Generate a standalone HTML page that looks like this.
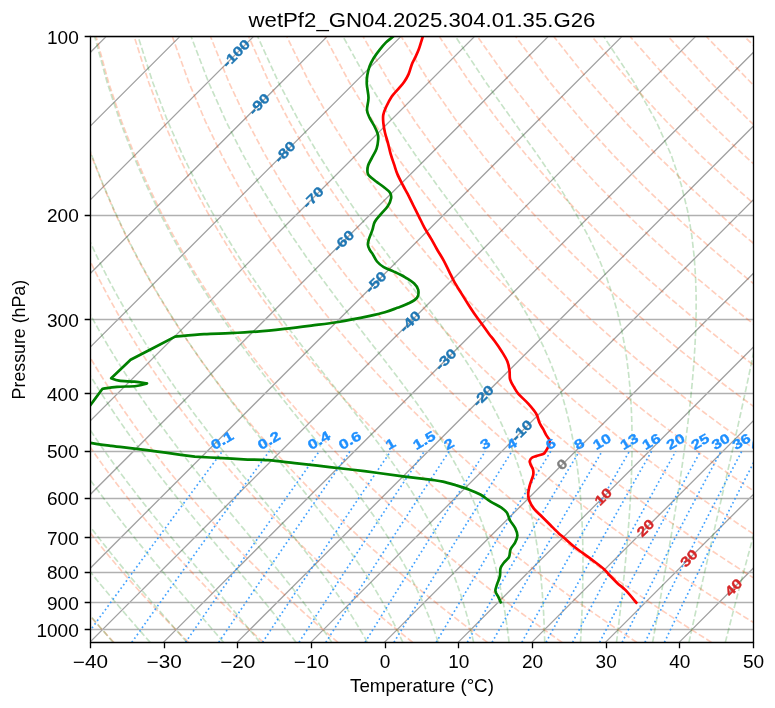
<!DOCTYPE html><html><head><meta charset="utf-8"><style>html,body{margin:0;padding:0;background:#fff;width:775px;height:708px;overflow:hidden;position:relative} svg{will-change:transform}</style></head><body>
<svg width="775" height="708" viewBox="0 0 775 708" style="position:absolute;left:0;top:0">
<defs><clipPath id="ax"><rect x="90.45" y="36.90" width="663.05" height="605.46"/></clipPath></defs>
<g clip-path="url(#ax)">
<path d="M-1089.01,642.36 L-483.54,36.90 M-1015.33,642.36 L-409.87,36.90 M-941.66,642.36 L-336.20,36.90 M-867.99,642.36 L-262.53,36.90 M-794.32,642.36 L-188.85,36.90 M-720.64,642.36 L-115.18,36.90 M-646.97,642.36 L-41.51,36.90 M-573.30,642.36 L32.16,36.90 M-499.63,642.36 L105.84,36.90 M-425.96,642.36 L179.51,36.90 M-352.28,642.36 L253.18,36.90 M-278.61,642.36 L326.85,36.90 M-204.94,642.36 L400.52,36.90 M-131.27,642.36 L474.20,36.90 M-57.59,642.36 L547.87,36.90 M16.08,642.36 L621.54,36.90 M89.75,642.36 L695.21,36.90 M163.42,642.36 L768.89,36.90 M237.09,642.36 L842.56,36.90 M310.77,642.36 L916.23,36.90 M384.44,642.36 L989.90,36.90 M458.11,642.36 L1063.57,36.90 M531.78,642.36 L1137.25,36.90 M605.46,642.36 L1210.92,36.90 M679.13,642.36 L1284.59,36.90 M752.80,642.36 L1358.26,36.90" stroke="#a2a2a2" stroke-width="1.33" fill="none"/>
<path d="M90.45,36.50 L753.50,36.50 M90.45,215.50 L753.50,215.50 M90.45,319.50 L753.50,319.50 M90.45,393.50 L753.50,393.50 M90.45,451.50 L753.50,451.50 M90.45,498.50 L753.50,498.50 M90.45,537.50 L753.50,537.50 M90.45,572.50 L753.50,572.50 M90.45,602.50 L753.50,602.50 M90.45,629.50 L753.50,629.50" stroke="#b0b0b0" stroke-width="1.33" fill="none"/>
<path d="M113.86,642.36 L109.41,637.56 L104.93,632.67 L100.41,627.69 L95.85,622.61 L91.26,617.42 L86.63,612.13 L81.97,606.73 L77.27,601.21 L72.52,595.57 L67.74,589.80 L62.92,583.90 L58.06,577.87 L53.16,571.68 L48.22,565.35 L43.23,558.86 L38.20,552.20 L33.13,545.36 L28.01,538.33 L22.84,531.11 L17.63,523.68 L12.38,516.03 L7.07,508.15 L1.72,500.01 L-3.68,491.61 L-9.12,482.93 L-14.61,473.94 L-20.15,464.63 L-25.74,454.97 L-31.37,444.93 L-37.05,434.49 L-42.77,423.61 L-48.53,412.24 L-54.32,400.35 L-60.15,387.88 L-66.00,374.78 L-71.87,360.98 L-77.75,346.39 L-83.62,330.93 L-89.47,314.48 L-95.27,296.90 L-101.00,278.04 L-106.61,257.69 L-112.04,235.59 L-117.22,211.41 L-122.04,184.72 L-126.33,154.95 L-129.85,121.28 L-132.22,82.53 L-132.79,36.90" stroke="#ff4500" stroke-width="1.67" fill="none" stroke-dasharray="6.17 2.67" stroke-opacity="0.26"/>
<path d="M188.57,642.36 L183.72,637.56 L178.83,632.67 L173.91,627.69 L168.94,622.61 L163.93,617.42 L158.87,612.13 L153.78,606.73 L148.64,601.21 L143.45,595.57 L138.22,589.80 L132.94,583.90 L127.61,577.87 L122.23,571.68 L116.80,565.35 L111.32,558.86 L105.79,552.20 L100.21,545.36 L94.57,538.33 L88.87,531.11 L83.12,523.68 L77.31,516.03 L71.44,508.15 L65.51,500.01 L59.52,491.61 L53.47,482.93 L47.36,473.94 L41.18,464.63 L34.94,454.97 L28.64,444.93 L22.27,434.49 L15.84,423.61 L9.35,412.24 L2.79,400.35 L-3.82,387.88 L-10.48,374.78 L-17.20,360.98 L-23.95,346.39 L-30.74,330.93 L-37.55,314.48 L-44.35,296.90 L-51.13,278.04 L-57.86,257.69 L-64.47,235.59 L-70.91,211.41 L-77.08,184.72 L-82.83,154.95 L-87.95,121.28 L-92.08,82.53 L-94.63,36.90" stroke="#ff4500" stroke-width="1.67" fill="none" stroke-dasharray="6.17 2.67" stroke-opacity="0.26"/>
<path d="M263.27,642.36 L258.03,637.56 L252.74,632.67 L247.41,627.69 L242.02,622.61 L236.59,617.42 L231.12,612.13 L225.59,606.73 L220.01,601.21 L214.38,595.57 L208.69,589.80 L202.95,583.90 L197.16,577.87 L191.30,571.68 L185.39,565.35 L179.42,558.86 L173.39,552.20 L167.29,545.36 L161.13,538.33 L154.90,531.11 L148.61,523.68 L142.25,516.03 L135.81,508.15 L129.30,500.01 L122.72,491.61 L116.07,482.93 L109.33,473.94 L102.52,464.63 L95.62,454.97 L88.65,444.93 L81.59,434.49 L74.44,423.61 L67.22,412.24 L59.90,400.35 L52.51,387.88 L45.03,374.78 L37.47,360.98 L29.84,346.39 L22.14,330.93 L14.37,314.48 L6.57,296.90 L-1.27,278.04 L-9.11,257.69 L-16.90,235.59 L-24.60,211.41 L-32.12,184.72 L-39.33,154.95 L-46.04,121.28 L-51.94,82.53 L-56.48,36.90" stroke="#ff4500" stroke-width="1.67" fill="none" stroke-dasharray="6.17 2.67" stroke-opacity="0.26"/>
<path d="M337.98,642.36 L332.34,637.56 L326.65,632.67 L320.91,627.69 L315.11,622.61 L309.26,617.42 L303.36,612.13 L297.40,606.73 L291.38,601.21 L285.30,595.57 L279.17,589.80 L272.97,583.90 L266.70,577.87 L260.37,571.68 L253.98,565.35 L247.52,558.86 L240.98,552.20 L234.37,545.36 L227.69,538.33 L220.93,531.11 L214.10,523.68 L207.18,516.03 L200.18,508.15 L193.09,500.01 L185.92,491.61 L178.66,482.93 L171.30,473.94 L163.85,464.63 L156.30,454.97 L148.66,444.93 L140.90,434.49 L133.05,423.61 L125.09,412.24 L117.02,400.35 L108.84,387.88 L100.55,374.78 L92.14,360.98 L83.63,346.39 L75.02,330.93 L66.30,314.48 L57.49,296.90 L48.59,278.04 L39.65,257.69 L30.67,235.59 L21.71,211.41 L12.84,184.72 L4.17,154.95 L-4.14,121.28 L-11.80,82.53 L-18.32,36.90" stroke="#ff4500" stroke-width="1.67" fill="none" stroke-dasharray="6.17 2.67" stroke-opacity="0.26"/>
<path d="M412.69,642.36 L406.65,637.56 L400.56,632.67 L394.41,627.69 L388.20,622.61 L381.93,617.42 L375.60,612.13 L369.21,606.73 L362.75,601.21 L356.23,595.57 L349.64,589.80 L342.98,583.90 L336.25,577.87 L329.45,571.68 L322.57,565.35 L315.61,558.86 L308.57,552.20 L301.46,545.36 L294.25,538.33 L286.97,531.11 L279.59,523.68 L272.12,516.03 L264.55,508.15 L256.89,500.01 L249.12,491.61 L241.25,482.93 L233.27,473.94 L225.19,464.63 L216.98,454.97 L208.66,444.93 L200.22,434.49 L191.66,423.61 L182.96,412.24 L174.13,400.35 L165.16,387.88 L156.06,374.78 L146.82,360.98 L137.43,346.39 L127.89,330.93 L118.22,314.48 L108.40,296.90 L98.46,278.04 L88.40,257.69 L78.24,235.59 L68.02,211.41 L57.80,184.72 L47.66,154.95 L37.76,121.28 L28.34,82.53 L19.84,36.90" stroke="#ff4500" stroke-width="1.67" fill="none" stroke-dasharray="6.17 2.67" stroke-opacity="0.26"/>
<path d="M487.39,642.36 L480.96,637.56 L474.46,632.67 L467.91,627.69 L461.28,622.61 L454.60,617.42 L447.84,612.13 L441.02,606.73 L434.12,601.21 L427.16,595.57 L420.11,589.80 L412.99,583.90 L405.80,577.87 L398.52,571.68 L391.15,565.35 L383.71,558.86 L376.17,552.20 L368.54,545.36 L360.82,538.33 L353.00,531.11 L345.08,523.68 L337.05,516.03 L328.92,508.15 L320.68,500.01 L312.32,491.61 L303.84,482.93 L295.25,473.94 L286.52,464.63 L277.67,454.97 L268.67,444.93 L259.54,434.49 L250.26,423.61 L240.83,412.24 L231.24,400.35 L221.49,387.88 L211.58,374.78 L201.49,360.98 L191.22,346.39 L180.77,330.93 L170.14,314.48 L159.32,296.90 L148.32,278.04 L137.15,257.69 L125.81,235.59 L114.33,211.41 L102.76,184.72 L91.16,154.95 L79.67,121.28 L68.48,82.53 L58.00,36.90" stroke="#ff4500" stroke-width="1.67" fill="none" stroke-dasharray="6.17 2.67" stroke-opacity="0.26"/>
<path d="M562.10,642.36 L555.27,637.56 L548.37,632.67 L541.41,627.69 L534.37,622.61 L527.26,617.42 L520.08,612.13 L512.83,606.73 L505.49,601.21 L498.08,595.57 L490.59,589.80 L483.01,583.90 L475.34,577.87 L467.59,571.68 L459.74,565.35 L451.80,558.86 L443.76,552.20 L435.62,545.36 L427.38,538.33 L419.03,531.11 L410.56,523.68 L401.99,516.03 L393.29,508.15 L384.47,500.01 L375.52,491.61 L366.44,482.93 L357.22,473.94 L347.86,464.63 L338.35,454.97 L328.68,444.93 L318.86,434.49 L308.87,423.61 L298.70,412.24 L288.36,400.35 L277.82,387.88 L267.09,374.78 L256.16,360.98 L245.01,346.39 L233.65,330.93 L222.06,314.48 L210.24,296.90 L198.19,278.04 L185.90,257.69 L173.38,235.59 L160.64,211.41 L147.72,184.72 L134.66,154.95 L121.57,121.28 L108.62,82.53 L96.16,36.90" stroke="#ff4500" stroke-width="1.67" fill="none" stroke-dasharray="6.17 2.67" stroke-opacity="0.26"/>
<path d="M636.81,642.36 L629.58,637.56 L622.28,632.67 L614.91,627.69 L607.46,622.61 L599.93,617.42 L592.32,612.13 L584.64,606.73 L576.87,601.21 L569.01,595.57 L561.06,589.80 L553.02,583.90 L544.89,577.87 L536.66,571.68 L528.33,565.35 L519.90,558.86 L511.36,552.20 L502.71,545.36 L493.94,538.33 L485.06,531.11 L476.05,523.68 L466.92,516.03 L457.66,508.15 L448.26,500.01 L438.72,491.61 L429.03,482.93 L419.19,473.94 L409.19,464.63 L399.03,454.97 L388.69,444.93 L378.18,434.49 L367.47,423.61 L356.57,412.24 L345.47,400.35 L334.15,387.88 L322.61,374.78 L310.83,360.98 L298.81,346.39 L286.53,330.93 L273.98,314.48 L261.16,296.90 L248.05,278.04 L234.65,257.69 L220.95,235.59 L206.95,211.41 L192.68,184.72 L178.16,154.95 L163.47,121.28 L148.76,82.53 L134.32,36.90" stroke="#ff4500" stroke-width="1.67" fill="none" stroke-dasharray="6.17 2.67" stroke-opacity="0.26"/>
<path d="M711.51,642.36 L703.89,637.56 L696.19,632.67 L688.40,627.69 L680.54,622.61 L672.60,617.42 L664.57,612.13 L656.45,606.73 L648.24,601.21 L639.93,595.57 L631.53,589.80 L623.04,583.90 L614.44,577.87 L605.73,571.68 L596.92,565.35 L587.99,558.86 L578.95,552.20 L569.79,545.36 L560.50,538.33 L551.09,531.11 L541.54,523.68 L531.86,516.03 L522.03,508.15 L512.05,500.01 L501.92,491.61 L491.62,482.93 L481.16,473.94 L470.53,464.63 L459.71,454.97 L448.70,444.93 L437.49,434.49 L426.08,423.61 L414.44,412.24 L402.58,400.35 L390.48,387.88 L378.12,374.78 L365.50,360.98 L352.60,346.39 L339.41,330.93 L325.91,314.48 L312.08,296.90 L297.92,278.04 L283.40,257.69 L268.52,235.59 L253.27,211.41 L237.64,184.72 L221.66,154.95 L205.38,121.28 L188.90,82.53 L172.47,36.90" stroke="#ff4500" stroke-width="1.67" fill="none" stroke-dasharray="6.17 2.67" stroke-opacity="0.26"/>
<path d="M786.22,642.36 L778.20,637.56 L770.09,632.67 L761.90,627.69 L753.63,622.61 L745.26,617.42 L736.81,612.13 L728.26,606.73 L719.61,601.21 L710.86,595.57 L702.01,589.80 L693.05,583.90 L683.98,577.87 L674.80,571.68 L665.51,565.35 L656.09,558.86 L646.54,552.20 L636.87,545.36 L627.06,538.33 L617.12,531.11 L607.03,523.68 L596.79,516.03 L586.40,508.15 L575.84,500.01 L565.12,491.61 L554.22,482.93 L543.14,473.94 L531.86,464.63 L520.39,454.97 L508.71,444.93 L496.81,434.49 L484.68,423.61 L472.31,412.24 L459.69,400.35 L446.80,387.88 L433.64,374.78 L420.17,360.98 L406.39,346.39 L392.29,330.93 L377.83,314.48 L363.00,296.90 L347.78,278.04 L332.15,257.69 L316.09,235.59 L299.58,211.41 L282.60,184.72 L265.16,154.95 L247.28,121.28 L229.04,82.53 L210.63,36.90" stroke="#ff4500" stroke-width="1.67" fill="none" stroke-dasharray="6.17 2.67" stroke-opacity="0.26"/>
<path d="M860.93,642.36 L852.51,637.56 L844.00,632.67 L835.40,627.69 L826.72,622.61 L817.93,617.42 L809.05,612.13 L800.07,606.73 L790.98,601.21 L781.79,595.57 L772.48,589.80 L763.07,583.90 L753.53,577.87 L743.87,571.68 L734.09,565.35 L724.18,558.86 L714.14,552.20 L703.95,545.36 L693.63,538.33 L683.15,531.11 L672.52,523.68 L661.73,516.03 L650.77,508.15 L639.63,500.01 L628.32,491.61 L616.81,482.93 L605.11,473.94 L593.20,464.63 L581.07,454.97 L568.72,444.93 L556.13,434.49 L543.29,423.61 L530.19,412.24 L516.81,400.35 L503.13,387.88 L489.15,374.78 L474.84,360.98 L460.19,346.39 L445.16,330.93 L429.75,314.48 L413.92,296.90 L397.65,278.04 L380.90,257.69 L363.66,235.59 L345.89,211.41 L327.56,184.72 L308.66,154.95 L289.18,121.28 L269.18,82.53 L248.79,36.90" stroke="#ff4500" stroke-width="1.67" fill="none" stroke-dasharray="6.17 2.67" stroke-opacity="0.26"/>
<path d="M935.63,642.36 L926.82,637.56 L917.91,632.67 L908.90,627.69 L899.80,622.61 L890.60,617.42 L881.29,612.13 L871.88,606.73 L862.35,601.21 L852.71,595.57 L842.96,589.80 L833.08,583.90 L823.08,577.87 L812.95,571.68 L802.68,565.35 L792.28,558.86 L781.73,552.20 L771.04,545.36 L760.19,538.33 L749.18,531.11 L738.01,523.68 L726.66,516.03 L715.14,508.15 L703.42,500.01 L691.52,491.61 L679.40,482.93 L667.08,473.94 L654.53,464.63 L641.75,454.97 L628.73,444.93 L615.45,434.49 L601.90,423.61 L588.06,412.24 L573.92,400.35 L559.46,387.88 L544.67,374.78 L529.51,360.98 L513.98,346.39 L498.04,330.93 L481.67,314.48 L464.84,296.90 L447.51,278.04 L429.66,257.69 L411.23,235.59 L392.20,211.41 L372.52,184.72 L352.16,154.95 L331.09,121.28 L309.32,82.53 L286.95,36.90" stroke="#ff4500" stroke-width="1.67" fill="none" stroke-dasharray="6.17 2.67" stroke-opacity="0.26"/>
<path d="M1010.34,642.36 L1001.13,637.56 L991.82,632.67 L982.40,627.69 L972.89,622.61 L963.27,617.42 L953.53,612.13 L943.69,606.73 L933.72,601.21 L923.64,595.57 L913.43,589.80 L903.09,583.90 L892.62,577.87 L882.02,571.68 L871.27,565.35 L860.37,558.86 L849.33,552.20 L838.12,545.36 L826.75,538.33 L815.21,531.11 L803.50,523.68 L791.60,516.03 L779.51,508.15 L767.21,500.01 L754.71,491.61 L742.00,482.93 L729.05,473.94 L715.87,464.63 L702.44,454.97 L688.74,444.93 L674.77,434.49 L660.50,423.61 L645.93,412.24 L631.03,400.35 L615.79,387.88 L600.18,374.78 L584.19,360.98 L567.77,346.39 L550.92,330.93 L533.59,314.48 L515.76,296.90 L497.38,278.04 L478.41,257.69 L458.80,235.59 L438.51,211.41 L417.48,184.72 L395.65,154.95 L372.99,121.28 L349.46,82.53 L325.11,36.90" stroke="#ff4500" stroke-width="1.67" fill="none" stroke-dasharray="6.17 2.67" stroke-opacity="0.26"/>
<path d="M1085.05,642.36 L1075.44,637.56 L1065.72,632.67 L1055.90,627.69 L1045.98,622.61 L1035.93,617.42 L1025.77,612.13 L1015.50,606.73 L1005.09,601.21 L994.57,595.57 L983.90,589.80 L973.11,583.90 L962.17,577.87 L951.09,571.68 L939.86,565.35 L928.47,558.86 L916.92,552.20 L905.20,545.36 L893.31,538.33 L881.24,531.11 L868.98,523.68 L856.53,516.03 L843.87,508.15 L831.01,500.01 L817.91,491.61 L804.59,482.93 L791.03,473.94 L777.20,464.63 L763.12,454.97 L748.75,444.93 L734.08,434.49 L719.11,423.61 L703.80,412.24 L688.14,400.35 L672.12,387.88 L655.70,374.78 L638.86,360.98 L621.57,346.39 L603.80,330.93 L585.52,314.48 L566.68,296.90 L547.24,278.04 L527.16,257.69 L506.37,235.59 L484.82,211.41 L462.44,184.72 L439.15,154.95 L414.89,121.28 L389.60,82.53 L363.27,36.90" stroke="#ff4500" stroke-width="1.67" fill="none" stroke-dasharray="6.17 2.67" stroke-opacity="0.26"/>
<path d="M1159.75,642.36 L1149.75,637.56 L1139.63,632.67 L1129.40,627.69 L1119.06,622.61 L1108.60,617.42 L1098.02,612.13 L1087.31,606.73 L1076.47,601.21 L1065.49,595.57 L1054.38,589.80 L1043.12,583.90 L1031.72,577.87 L1020.16,571.68 L1008.44,565.35 L996.56,558.86 L984.51,552.20 L972.29,545.36 L959.88,538.33 L947.27,531.11 L934.47,523.68 L921.47,516.03 L908.24,508.15 L894.80,500.01 L881.11,491.61 L867.18,482.93 L853.00,473.94 L838.54,464.63 L823.80,454.97 L808.76,444.93 L793.40,434.49 L777.71,423.61 L761.67,412.24 L745.26,400.35 L728.44,387.88 L711.21,374.78 L693.53,360.98 L675.36,346.39 L656.68,330.93 L637.44,314.48 L617.60,296.90 L597.11,278.04 L575.91,257.69 L553.94,235.59 L531.13,211.41 L507.40,184.72 L482.65,154.95 L456.80,121.28 L429.74,82.53 L401.42,36.90" stroke="#ff4500" stroke-width="1.67" fill="none" stroke-dasharray="6.17 2.67" stroke-opacity="0.26"/>
<path d="M1234.46,642.36 L1224.06,637.56 L1213.54,632.67 L1202.90,627.69 L1192.15,622.61 L1181.27,617.42 L1170.26,612.13 L1159.12,606.73 L1147.84,601.21 L1136.42,595.57 L1124.85,589.80 L1113.14,583.90 L1101.26,577.87 L1089.23,571.68 L1077.03,565.35 L1064.66,558.86 L1052.11,552.20 L1039.37,545.36 L1026.44,538.33 L1013.30,531.11 L999.96,523.68 L986.40,516.03 L972.61,508.15 L958.59,500.01 L944.31,491.61 L929.78,482.93 L914.97,473.94 L899.88,464.63 L884.48,454.97 L868.77,444.93 L852.72,434.49 L836.32,423.61 L819.54,412.24 L802.37,400.35 L784.77,387.88 L766.73,374.78 L748.20,360.98 L729.16,346.39 L709.56,330.93 L689.36,314.48 L668.52,296.90 L646.97,278.04 L624.66,257.69 L601.51,235.59 L577.44,211.41 L552.36,184.72 L526.15,154.95 L498.70,121.28 L469.88,82.53 L439.58,36.90" stroke="#ff4500" stroke-width="1.67" fill="none" stroke-dasharray="6.17 2.67" stroke-opacity="0.26"/>
<path d="M1309.16,642.36 L1298.37,637.56 L1287.45,632.67 L1276.40,627.69 L1265.23,622.61 L1253.93,617.42 L1242.50,612.13 L1230.93,606.73 L1219.21,601.21 L1207.34,595.57 L1195.33,589.80 L1183.15,583.90 L1170.81,577.87 L1158.30,571.68 L1145.62,565.35 L1132.75,558.86 L1119.70,552.20 L1106.45,545.36 L1093.00,538.33 L1079.34,531.11 L1065.45,523.68 L1051.34,516.03 L1036.98,508.15 L1022.38,500.01 L1007.51,491.61 L992.37,482.93 L976.94,473.94 L961.21,464.63 L945.16,454.97 L928.78,444.93 L912.04,434.49 L894.92,423.61 L877.41,412.24 L859.48,400.35 L841.10,387.88 L822.24,374.78 L802.87,360.98 L782.95,346.39 L762.44,330.93 L741.28,314.48 L719.44,296.90 L696.84,278.04 L673.41,257.69 L649.08,235.59 L623.75,211.41 L597.32,184.72 L569.65,154.95 L540.60,121.28 L510.02,82.53 L477.74,36.90" stroke="#ff4500" stroke-width="1.67" fill="none" stroke-dasharray="6.17 2.67" stroke-opacity="0.26"/>
<path d="M1383.87,642.36 L1372.68,637.56 L1361.35,632.67 L1349.90,627.69 L1338.32,622.61 L1326.60,617.42 L1314.74,612.13 L1302.74,606.73 L1290.58,601.21 L1278.27,595.57 L1265.80,589.80 L1253.16,583.90 L1240.36,577.87 L1227.37,571.68 L1214.21,565.35 L1200.85,558.86 L1187.29,552.20 L1173.53,545.36 L1159.56,538.33 L1145.37,531.11 L1130.94,523.68 L1116.27,516.03 L1101.35,508.15 L1086.17,500.01 L1070.71,491.61 L1054.96,482.93 L1038.91,473.94 L1022.55,464.63 L1005.84,454.97 L988.79,444.93 L971.36,434.49 L953.53,423.61 L935.28,412.24 L916.59,400.35 L897.43,387.88 L877.76,374.78 L857.54,360.98 L836.74,346.39 L815.31,330.93 L793.20,314.48 L770.36,296.90 L746.70,278.04 L722.16,257.69 L696.65,235.59 L670.06,211.41 L642.28,184.72 L613.15,154.95 L582.51,121.28 L550.16,82.53 L515.90,36.90" stroke="#ff4500" stroke-width="1.67" fill="none" stroke-dasharray="6.17 2.67" stroke-opacity="0.26"/>
<path d="M1458.58,642.36 L1446.98,637.56 L1435.26,632.67 L1423.40,627.69 L1411.41,622.61 L1399.27,617.42 L1386.98,612.13 L1374.55,606.73 L1361.95,601.21 L1349.20,595.57 L1336.27,589.80 L1323.18,583.90 L1309.90,577.87 L1296.45,571.68 L1282.79,565.35 L1268.95,558.86 L1254.89,552.20 L1240.62,545.36 L1226.12,538.33 L1211.40,531.11 L1196.43,523.68 L1181.21,516.03 L1165.72,508.15 L1149.96,500.01 L1133.91,491.61 L1117.56,482.93 L1100.89,473.94 L1083.88,464.63 L1066.52,454.97 L1048.79,444.93 L1030.67,434.49 L1012.14,423.61 L993.16,412.24 L973.71,400.35 L953.76,387.88 L933.27,374.78 L912.21,360.98 L890.54,346.39 L868.19,330.93 L845.13,314.48 L821.28,296.90 L796.57,278.04 L770.91,257.69 L744.22,235.59 L716.38,211.41 L687.24,184.72 L656.65,154.95 L624.41,121.28 L590.30,82.53 L554.06,36.90" stroke="#ff4500" stroke-width="1.67" fill="none" stroke-dasharray="6.17 2.67" stroke-opacity="0.26"/>
<path d="M1533.28,642.36 L1521.29,637.56 L1509.17,632.67 L1496.90,627.69 L1484.49,622.61 L1471.94,617.42 L1459.22,612.13 L1446.36,606.73 L1433.32,601.21 L1420.12,595.57 L1406.75,589.80 L1393.19,583.90 L1379.45,577.87 L1365.52,571.68 L1351.38,565.35 L1337.04,558.86 L1322.48,552.20 L1307.70,545.36 L1292.69,538.33 L1277.43,531.11 L1261.92,523.68 L1246.14,516.03 L1230.09,508.15 L1213.75,500.01 L1197.11,491.61 L1180.15,482.93 L1162.86,473.94 L1145.22,464.63 L1127.21,454.97 L1108.80,444.93 L1089.99,434.49 L1070.74,423.61 L1051.03,412.24 L1030.82,400.35 L1010.09,387.88 L988.79,374.78 L966.88,360.98 L944.33,346.39 L921.07,330.93 L897.05,314.48 L872.19,296.90 L846.43,278.04 L819.67,257.69 L791.79,235.59 L762.69,211.41 L732.20,184.72 L700.15,154.95 L666.31,121.28 L630.44,82.53 L592.22,36.90" stroke="#ff4500" stroke-width="1.67" fill="none" stroke-dasharray="6.17 2.67" stroke-opacity="0.26"/>
<path d="M1607.99,642.36 L1595.60,637.56 L1583.08,632.67 L1570.40,627.69 L1557.58,622.61 L1544.60,617.42 L1531.47,612.13 L1518.17,606.73 L1504.69,601.21 L1491.05,595.57 L1477.22,589.80 L1463.21,583.90 L1449.00,577.87 L1434.59,571.68 L1419.97,565.35 L1405.14,558.86 L1390.08,552.20 L1374.78,545.36 L1359.25,538.33 L1343.46,531.11 L1327.41,523.68 L1311.08,516.03 L1294.46,508.15 L1277.54,500.01 L1260.31,491.61 L1242.74,482.93 L1224.83,473.94 L1206.55,464.63 L1187.89,454.97 L1168.81,444.93 L1149.31,434.49 L1129.35,423.61 L1108.90,412.24 L1087.93,400.35 L1066.41,387.88 L1044.30,374.78 L1021.55,360.98 L998.12,346.39 L973.95,330.93 L948.97,314.48 L923.11,296.90 L896.30,278.04 L868.42,257.69 L839.36,235.59 L809.00,211.41 L777.16,184.72 L743.64,154.95 L708.22,121.28 L670.58,82.53 L630.37,36.90" stroke="#ff4500" stroke-width="1.67" fill="none" stroke-dasharray="6.17 2.67" stroke-opacity="0.26"/>
<path d="M1682.70,642.36 L1669.91,637.56 L1656.98,632.67 L1643.90,627.69 L1630.67,622.61 L1617.27,617.42 L1603.71,612.13 L1589.98,606.73 L1576.07,601.21 L1561.98,595.57 L1547.70,589.80 L1533.22,583.90 L1518.55,577.87 L1503.66,571.68 L1488.56,565.35 L1473.23,558.86 L1457.67,552.20 L1441.87,545.36 L1425.81,538.33 L1409.49,531.11 L1392.89,523.68 L1376.01,516.03 L1358.83,508.15 L1341.33,500.01 L1323.51,491.61 L1305.34,482.93 L1286.80,473.94 L1267.89,464.63 L1248.57,454.97 L1228.82,444.93 L1208.63,434.49 L1187.95,423.61 L1166.77,412.24 L1145.04,400.35 L1122.74,387.88 L1099.82,374.78 L1076.23,360.98 L1051.92,346.39 L1026.83,330.93 L1000.89,314.48 L974.03,296.90 L946.16,278.04 L917.17,257.69 L886.93,235.59 L855.31,211.41 L822.12,184.72 L787.14,154.95 L750.12,121.28 L710.72,82.53 L668.53,36.90" stroke="#ff4500" stroke-width="1.67" fill="none" stroke-dasharray="6.17 2.67" stroke-opacity="0.26"/>
<path d="M1757.40,642.36 L1744.22,637.56 L1730.89,632.67 L1717.40,627.69 L1703.75,622.61 L1689.94,617.42 L1675.95,612.13 L1661.79,606.73 L1647.44,601.21 L1632.90,595.57 L1618.17,589.80 L1603.24,583.90 L1588.09,577.87 L1572.73,571.68 L1557.15,565.35 L1541.33,558.86 L1525.26,552.20 L1508.95,545.36 L1492.37,538.33 L1475.52,531.11 L1458.38,523.68 L1440.95,516.03 L1423.20,508.15 L1405.12,500.01 L1386.71,491.61 L1367.93,482.93 L1348.78,473.94 L1329.22,464.63 L1309.25,454.97 L1288.83,444.93 L1267.94,434.49 L1246.56,423.61 L1224.64,412.24 L1202.16,400.35 L1179.07,387.88 L1155.33,374.78 L1130.90,360.98 L1105.71,346.39 L1079.71,330.93 L1052.81,314.48 L1024.95,296.90 L996.02,278.04 L965.92,257.69 L934.50,235.59 L901.62,211.41 L867.08,184.72 L830.64,154.95 L792.03,121.28 L750.86,82.53 L706.69,36.90" stroke="#ff4500" stroke-width="1.67" fill="none" stroke-dasharray="6.17 2.67" stroke-opacity="0.26"/>
<path d="M1832.11,642.36 L1818.53,637.56 L1804.80,632.67 L1790.90,627.69 L1776.84,622.61 L1762.60,617.42 L1748.19,612.13 L1733.60,606.73 L1718.81,601.21 L1703.83,595.57 L1688.64,589.80 L1673.25,583.90 L1657.64,577.87 L1641.80,571.68 L1625.73,565.35 L1609.42,558.86 L1592.86,552.20 L1576.03,545.36 L1558.93,538.33 L1541.55,531.11 L1523.87,523.68 L1505.88,516.03 L1487.57,508.15 L1468.92,500.01 L1449.91,491.61 L1430.52,482.93 L1410.75,473.94 L1390.56,464.63 L1369.93,454.97 L1348.84,444.93 L1327.26,434.49 L1305.16,423.61 L1282.51,412.24 L1259.27,400.35 L1235.40,387.88 L1210.85,374.78 L1185.57,360.98 L1159.50,346.39 L1132.58,330.93 L1104.74,314.48 L1075.87,296.90 L1045.89,278.04 L1014.67,257.69 L982.07,235.59 L947.93,211.41 L912.04,184.72 L874.14,154.95 L833.93,121.28 L791.00,82.53 L744.85,36.90" stroke="#ff4500" stroke-width="1.67" fill="none" stroke-dasharray="6.17 2.67" stroke-opacity="0.26"/>
<path d="M1906.82,642.36 L1892.84,637.56 L1878.71,632.67 L1864.40,627.69 L1849.93,622.61 L1835.27,617.42 L1820.43,612.13 L1805.41,606.73 L1790.18,601.21 L1774.75,595.57 L1759.12,589.80 L1743.26,583.90 L1727.19,577.87 L1710.87,571.68 L1694.32,565.35 L1677.52,558.86 L1660.45,552.20 L1643.12,545.36 L1625.50,538.33 L1607.58,531.11 L1589.36,523.68 L1570.82,516.03 L1551.94,508.15 L1532.71,500.01 L1513.11,491.61 L1493.12,482.93 L1472.72,473.94 L1451.89,464.63 L1430.61,454.97 L1408.85,444.93 L1386.58,434.49 L1363.77,423.61 L1340.38,412.24 L1316.38,400.35 L1291.73,387.88 L1266.36,374.78 L1240.24,360.98 L1213.30,346.39 L1185.46,330.93 L1156.66,314.48 L1126.79,296.90 L1095.75,278.04 L1063.42,257.69 L1029.64,235.59 L994.24,211.41 L957.00,184.72 L917.64,154.95 L875.83,121.28 L831.14,82.53 L783.01,36.90" stroke="#ff4500" stroke-width="1.67" fill="none" stroke-dasharray="6.17 2.67" stroke-opacity="0.26"/>
<path d="M1981.52,642.36 L1967.15,637.56 L1952.61,632.67 L1937.90,627.69 L1923.01,622.61 L1907.94,617.42 L1892.68,612.13 L1877.22,606.73 L1861.55,601.21 L1845.68,595.57 L1829.59,589.80 L1813.28,583.90 L1796.73,577.87 L1779.95,571.68 L1762.91,565.35 L1745.61,558.86 L1728.05,552.20 L1710.20,545.36 L1692.06,538.33 L1673.61,531.11 L1654.85,523.68 L1635.75,516.03 L1616.31,508.15 L1596.50,500.01 L1576.31,491.61 L1555.71,482.93 L1534.69,473.94 L1513.23,464.63 L1491.29,454.97 L1468.86,444.93 L1445.90,434.49 L1422.38,423.61 L1398.25,412.24 L1373.50,400.35 L1348.05,387.88 L1321.88,374.78 L1294.91,360.98 L1267.09,346.39 L1238.34,330.93 L1208.58,314.48 L1177.71,296.90 L1145.62,278.04 L1112.17,257.69 L1077.21,235.59 L1040.55,211.41 L1001.96,184.72 L961.14,154.95 L917.74,121.28 L871.28,82.53 L821.17,36.90" stroke="#ff4500" stroke-width="1.67" fill="none" stroke-dasharray="6.17 2.67" stroke-opacity="0.26"/>
<path d="M2056.23,642.36 L2041.46,637.56 L2026.52,632.67 L2011.40,627.69 L1996.10,622.61 L1980.61,617.42 L1964.92,612.13 L1949.03,606.73 L1932.92,601.21 L1916.61,595.57 L1900.07,589.80 L1883.29,583.90 L1866.28,577.87 L1849.02,571.68 L1831.50,565.35 L1813.71,558.86 L1795.64,552.20 L1777.28,545.36 L1758.62,538.33 L1739.64,531.11 L1720.34,523.68 L1700.69,516.03 L1680.68,508.15 L1660.29,500.01 L1639.50,491.61 L1618.30,482.93 L1596.66,473.94 L1574.56,464.63 L1551.97,454.97 L1528.87,444.93 L1505.22,434.49 L1480.98,423.61 L1456.13,412.24 L1430.61,400.35 L1404.38,387.88 L1377.39,374.78 L1349.58,360.98 L1320.88,346.39 L1291.22,330.93 L1260.50,314.48 L1228.63,296.90 L1195.48,278.04 L1160.92,257.69 L1124.78,235.59 L1086.86,211.41 L1046.92,184.72 L1004.64,154.95 L959.64,121.28 L911.42,82.53 L859.32,36.90" stroke="#ff4500" stroke-width="1.67" fill="none" stroke-dasharray="6.17 2.67" stroke-opacity="0.26"/>
<path d="M2130.94,642.36 L2115.77,637.56 L2100.43,632.67 L2084.90,627.69 L2069.19,622.61 L2053.27,617.42 L2037.16,612.13 L2020.83,606.73 L2004.30,601.21 L1987.53,595.57 L1970.54,589.80 L1953.31,583.90 L1935.83,577.87 L1918.09,571.68 L1900.08,565.35 L1881.80,558.86 L1863.23,552.20 L1844.36,545.36 L1825.18,538.33 L1805.67,531.11 L1785.83,523.68 L1765.62,516.03 L1745.05,508.15 L1724.08,500.01 L1702.70,491.61 L1680.90,482.93 L1658.64,473.94 L1635.90,464.63 L1612.66,454.97 L1588.88,444.93 L1564.53,434.49 L1539.59,423.61 L1514.00,412.24 L1487.72,400.35 L1460.71,387.88 L1432.91,374.78 L1404.25,360.98 L1374.68,346.39 L1344.10,330.93 L1312.42,314.48 L1279.55,296.90 L1245.35,278.04 L1209.68,257.69 L1172.35,235.59 L1133.17,211.41 L1091.88,184.72 L1048.14,154.95 L1001.54,121.28 L951.56,82.53 L897.48,36.90" stroke="#ff4500" stroke-width="1.67" fill="none" stroke-dasharray="6.17 2.67" stroke-opacity="0.26"/>
<path d="M2205.64,642.36 L2190.08,637.56 L2174.34,632.67 L2158.40,627.69 L2142.27,622.61 L2125.94,617.42 L2109.40,612.13 L2092.64,606.73 L2075.67,601.21 L2058.46,595.57 L2041.01,589.80 L2023.32,583.90 L2005.37,577.87 L1987.16,571.68 L1968.67,565.35 L1949.90,558.86 L1930.83,552.20 L1911.45,545.36 L1891.74,538.33 L1871.71,531.11 L1851.31,523.68 L1830.56,516.03 L1809.42,508.15 L1787.87,500.01 L1765.90,491.61 L1743.49,482.93 L1720.61,473.94 L1697.23,464.63 L1673.34,454.97 L1648.89,444.93 L1623.85,434.49 L1598.19,423.61 L1571.87,412.24 L1544.83,400.35 L1517.04,387.88 L1488.42,374.78 L1458.92,360.98 L1428.47,346.39 L1396.98,330.93 L1364.35,314.48 L1330.47,296.90 L1295.21,278.04 L1258.43,257.69 L1219.92,235.59 L1179.49,211.41 L1136.84,184.72 L1091.63,154.95 L1043.45,121.28 L991.70,82.53 L935.64,36.90" stroke="#ff4500" stroke-width="1.67" fill="none" stroke-dasharray="6.17 2.67" stroke-opacity="0.26"/>
<path d="M2280.35,642.36 L2264.39,637.56 L2248.24,632.67 L2231.90,627.69 L2215.36,622.61 L2198.61,617.42 L2181.64,612.13 L2164.45,606.73 L2147.04,601.21 L2129.39,595.57 L2111.49,589.80 L2093.33,583.90 L2074.92,577.87 L2056.23,571.68 L2037.26,565.35 L2017.99,558.86 L1998.42,552.20 L1978.53,545.36 L1958.31,538.33 L1937.74,531.11 L1916.80,523.68 L1895.49,516.03 L1873.79,508.15 L1851.66,500.01 L1829.10,491.61 L1806.08,482.93 L1782.58,473.94 L1758.57,464.63 L1734.02,454.97 L1708.90,444.93 L1683.17,434.49 L1656.80,423.61 L1629.74,412.24 L1601.95,400.35 L1573.37,387.88 L1543.94,374.78 L1513.60,360.98 L1482.26,346.39 L1449.85,330.93 L1416.27,314.48 L1381.39,296.90 L1345.08,278.04 L1307.18,257.69 L1267.49,235.59 L1225.80,211.41 L1181.80,184.72 L1135.13,154.95 L1085.35,121.28 L1031.84,82.53 L973.80,36.90" stroke="#ff4500" stroke-width="1.67" fill="none" stroke-dasharray="6.17 2.67" stroke-opacity="0.26"/>
<path d="M113.20,642.36 L109.02,637.56 L104.79,632.67 L100.50,627.69 L96.16,622.61 L91.76,617.42 L87.31,612.13 L82.80,606.73 L78.24,601.21 L73.62,595.57 L68.95,589.80 L64.23,583.90 L59.46,577.87 L54.63,571.68 L49.75,565.35 L44.82,558.86 L39.83,552.20 L34.80,545.36 L29.71,538.33 L24.57,531.11 L19.38,523.68 L14.13,516.03 L8.83,508.15 L3.49,500.01 L-1.91,491.61 L-7.36,482.93 L-12.86,473.94 L-18.41,464.63 L-24.01,454.97 L-29.66,444.93 L-35.35,434.49 L-41.09,423.61 L-46.86,412.24 L-52.68,400.35 L-58.53,387.88 L-64.40,374.78 L-70.29,360.98 L-76.20,346.39 L-82.10,330.93 L-87.97,314.48 L-93.80,296.90 L-99.56,278.04 L-105.20,257.69 L-110.67,235.59 L-115.89,211.41 L-120.74,184.72 L-125.08,154.95 L-128.64,121.28 L-131.06,82.53 L-131.69,36.90" stroke="#008000" stroke-width="1.67" fill="none" stroke-dasharray="6.17 2.67" stroke-opacity="0.22"/>
<path d="M150.17,642.36 L145.95,637.56 L141.66,632.67 L137.31,627.69 L132.88,622.61 L128.39,617.42 L123.84,612.13 L119.21,606.73 L114.52,601.21 L109.77,595.57 L104.95,589.80 L100.07,583.90 L95.12,577.87 L90.11,571.68 L85.03,565.35 L79.89,558.86 L74.69,552.20 L69.43,545.36 L64.10,538.33 L58.72,531.11 L53.27,523.68 L47.76,516.03 L42.19,508.15 L36.56,500.01 L30.86,491.61 L25.11,482.93 L19.30,473.94 L13.42,464.63 L7.49,454.97 L1.50,444.93 L-4.55,434.49 L-10.65,423.61 L-16.81,412.24 L-23.01,400.35 L-29.27,387.88 L-35.56,374.78 L-41.90,360.98 L-48.25,346.39 L-54.63,330.93 L-61.00,314.48 L-67.35,296.90 L-73.66,278.04 L-79.88,257.69 L-85.96,235.59 L-91.83,211.41 L-97.39,184.72 L-102.48,154.95 L-106.88,121.28 L-110.21,82.53 L-111.87,36.90" stroke="#008000" stroke-width="1.67" fill="none" stroke-dasharray="6.17 2.67" stroke-opacity="0.22"/>
<path d="M186.97,642.36 L182.78,637.56 L178.50,632.67 L174.14,627.69 L169.70,622.61 L165.17,617.42 L160.57,612.13 L155.88,606.73 L151.11,601.21 L146.26,595.57 L141.34,589.80 L136.33,583.90 L131.24,577.87 L126.08,571.68 L120.84,565.35 L115.52,558.86 L110.12,552.20 L104.66,545.36 L99.11,538.33 L93.49,531.11 L87.80,523.68 L82.04,516.03 L76.20,508.15 L70.29,500.01 L64.31,491.61 L58.25,482.93 L52.12,473.94 L45.93,464.63 L39.66,454.97 L33.32,444.93 L26.91,434.49 L20.44,423.61 L13.89,412.24 L7.29,400.35 L0.62,387.88 L-6.11,374.78 L-12.89,360.98 L-19.71,346.39 L-26.57,330.93 L-33.45,314.48 L-40.33,296.90 L-47.20,278.04 L-54.01,257.69 L-60.72,235.59 L-67.26,211.41 L-73.53,184.72 L-79.40,154.95 L-84.64,121.28 L-88.91,82.53 L-91.62,36.90" stroke="#008000" stroke-width="1.67" fill="none" stroke-dasharray="6.17 2.67" stroke-opacity="0.22"/>
<path d="M223.56,642.36 L219.47,637.56 L215.29,632.67 L211.01,627.69 L206.63,622.61 L202.14,617.42 L197.56,612.13 L192.89,606.73 L188.11,601.21 L183.23,595.57 L178.25,589.80 L173.18,583.90 L168.01,577.87 L162.74,571.68 L157.38,565.35 L151.92,558.86 L146.37,552.20 L140.73,545.36 L135.00,538.33 L129.17,531.11 L123.26,523.68 L117.26,516.03 L111.16,508.15 L104.99,500.01 L98.72,491.61 L92.37,482.93 L85.93,473.94 L79.41,464.63 L72.81,454.97 L66.12,444.93 L59.34,434.49 L52.49,423.61 L45.55,412.24 L38.54,400.35 L31.44,387.88 L24.27,374.78 L17.04,360.98 L9.73,346.39 L2.37,330.93 L-5.03,314.48 L-12.46,296.90 L-19.90,278.04 L-27.32,257.69 L-34.68,235.59 L-41.91,211.41 L-48.92,184.72 L-55.59,154.95 L-61.70,121.28 L-66.94,82.53 L-70.73,36.90" stroke="#008000" stroke-width="1.67" fill="none" stroke-dasharray="6.17 2.67" stroke-opacity="0.22"/>
<path d="M259.89,642.36 L256.01,637.56 L252.02,632.67 L247.91,627.69 L243.69,622.61 L239.35,617.42 L234.89,612.13 L230.31,606.73 L225.62,601.21 L220.80,595.57 L215.86,589.80 L210.81,583.90 L205.63,577.87 L200.33,571.68 L194.92,565.35 L189.39,558.86 L183.74,552.20 L177.98,545.36 L172.10,538.33 L166.11,531.11 L160.01,523.68 L153.80,516.03 L147.49,508.15 L141.06,500.01 L134.53,491.61 L127.90,482.93 L121.16,473.94 L114.31,464.63 L107.37,454.97 L100.33,444.93 L93.18,434.49 L85.94,423.61 L78.60,412.24 L71.16,400.35 L63.63,387.88 L56.00,374.78 L48.28,360.98 L40.48,346.39 L32.60,330.93 L24.65,314.48 L16.65,296.90 L8.61,278.04 L0.55,257.69 L-7.48,235.59 L-15.43,211.41 L-23.22,184.72 L-30.72,154.95 L-37.75,121.28 L-43.99,82.53 L-48.92,36.90" stroke="#008000" stroke-width="1.67" fill="none" stroke-dasharray="6.17 2.67" stroke-opacity="0.22"/>
<path d="M295.96,642.36 L292.39,637.56 L288.69,632.67 L284.87,627.69 L280.91,622.61 L276.83,617.42 L272.61,612.13 L268.25,606.73 L263.75,601.21 L259.11,595.57 L254.32,589.80 L249.40,583.90 L244.32,577.87 L239.11,571.68 L233.74,565.35 L228.23,558.86 L222.58,552.20 L216.78,545.36 L210.84,538.33 L204.75,531.11 L198.53,523.68 L192.17,516.03 L185.67,508.15 L179.04,500.01 L172.28,491.61 L165.39,482.93 L158.36,473.94 L151.21,464.63 L143.94,454.97 L136.54,444.93 L129.03,434.49 L121.39,423.61 L113.63,412.24 L105.75,400.35 L97.76,387.88 L89.65,374.78 L81.44,360.98 L73.11,346.39 L64.68,330.93 L56.15,314.48 L47.54,296.90 L38.86,278.04 L30.13,257.69 L21.38,235.59 L12.67,211.41 L4.06,184.72 L-4.33,154.95 L-12.32,121.28 L-19.64,82.53 L-25.77,36.90" stroke="#008000" stroke-width="1.67" fill="none" stroke-dasharray="6.17 2.67" stroke-opacity="0.22"/>
<path d="M331.78,642.36 L328.60,637.56 L325.30,632.67 L321.87,627.69 L318.30,622.61 L314.59,617.42 L310.73,612.13 L306.72,606.73 L302.56,601.21 L298.23,595.57 L293.75,589.80 L289.09,583.90 L284.27,577.87 L279.27,571.68 L274.10,565.35 L268.75,558.86 L263.23,552.20 L257.52,545.36 L251.64,538.33 L245.58,531.11 L239.34,523.68 L232.92,516.03 L226.33,508.15 L219.57,500.01 L212.64,491.61 L205.54,482.93 L198.28,473.94 L190.86,464.63 L183.28,454.97 L175.55,444.93 L167.66,434.49 L159.62,423.61 L151.44,412.24 L143.11,400.35 L134.64,387.88 L126.03,374.78 L117.27,360.98 L108.38,346.39 L99.36,330.93 L90.22,314.48 L80.95,296.90 L71.58,278.04 L62.12,257.69 L52.60,235.59 L43.06,211.41 L33.57,184.72 L24.22,154.95 L15.18,121.28 L6.71,82.53 L-0.73,36.90" stroke="#008000" stroke-width="1.67" fill="none" stroke-dasharray="6.17 2.67" stroke-opacity="0.22"/>
<path d="M367.37,642.36 L364.68,637.56 L361.86,632.67 L358.91,627.69 L355.83,622.61 L352.60,617.42 L349.23,612.13 L345.71,606.73 L342.02,601.21 L338.17,595.57 L334.14,589.80 L329.93,583.90 L325.53,577.87 L320.93,571.68 L316.14,565.35 L311.14,558.86 L305.93,552.20 L300.51,545.36 L294.87,538.33 L289.01,531.11 L282.92,523.68 L276.62,516.03 L270.09,508.15 L263.33,500.01 L256.36,491.61 L249.17,482.93 L241.77,473.94 L234.16,464.63 L226.34,454.97 L218.32,444.93 L210.10,434.49 L201.68,423.61 L193.08,412.24 L184.29,400.35 L175.32,387.88 L166.17,374.78 L156.85,360.98 L147.36,346.39 L137.69,330.93 L127.87,314.48 L117.88,296.90 L107.75,278.04 L97.49,257.69 L87.11,235.59 L76.66,211.41 L66.19,184.72 L55.78,154.95 L45.58,121.28 L35.83,82.53 L26.96,36.90" stroke="#008000" stroke-width="1.67" fill="none" stroke-dasharray="6.17 2.67" stroke-opacity="0.22"/>
<path d="M402.82,642.36 L400.65,637.56 L398.37,632.67 L395.98,627.69 L393.46,622.61 L390.82,617.42 L388.04,612.13 L385.11,606.73 L382.03,601.21 L378.78,595.57 L375.36,589.80 L371.76,583.90 L367.97,577.87 L363.98,571.68 L359.77,565.35 L355.35,558.86 L350.69,552.20 L345.79,545.36 L340.65,538.33 L335.24,531.11 L329.57,523.68 L323.63,516.03 L317.41,508.15 L310.91,500.01 L304.13,491.61 L297.06,482.93 L289.71,473.94 L282.08,464.63 L274.17,454.97 L265.98,444.93 L257.53,434.49 L248.82,423.61 L239.85,412.24 L230.63,400.35 L221.18,387.88 L211.48,374.78 L201.56,360.98 L191.42,346.39 L181.05,330.93 L170.48,314.48 L159.70,296.90 L148.71,278.04 L137.55,257.69 L126.21,235.59 L114.72,211.41 L103.14,184.72 L91.53,154.95 L80.02,121.28 L68.82,82.53 L58.32,36.90" stroke="#008000" stroke-width="1.67" fill="none" stroke-dasharray="6.17 2.67" stroke-opacity="0.22"/>
<path d="M438.20,642.36 L436.58,637.56 L434.87,632.67 L433.07,627.69 L431.16,622.61 L429.14,617.42 L427.01,612.13 L424.75,606.73 L422.36,601.21 L419.82,595.57 L417.13,589.80 L414.28,583.90 L411.25,577.87 L408.03,571.68 L404.61,565.35 L400.97,558.86 L397.11,552.20 L393.00,545.36 L388.64,538.33 L384.00,531.11 L379.07,523.68 L373.84,516.03 L368.29,508.15 L362.41,500.01 L356.19,491.61 L349.61,482.93 L342.66,473.94 L335.35,464.63 L327.67,454.97 L319.61,444.93 L311.18,434.49 L302.38,423.61 L293.22,412.24 L283.72,400.35 L273.87,387.88 L263.69,374.78 L253.19,360.98 L242.38,346.39 L231.27,330.93 L219.88,314.48 L208.21,296.90 L196.26,278.04 L184.06,257.69 L171.61,235.59 L158.93,211.41 L146.06,184.72 L133.06,154.95 L120.03,121.28 L107.15,82.53 L94.76,36.90" stroke="#008000" stroke-width="1.67" fill="none" stroke-dasharray="6.17 2.67" stroke-opacity="0.22"/>
<path d="M473.60,642.36 L472.52,637.56 L471.37,632.67 L470.15,627.69 L468.85,622.61 L467.47,617.42 L466.00,612.13 L464.43,606.73 L462.76,601.21 L460.97,595.57 L459.06,589.80 L457.02,583.90 L454.84,577.87 L452.50,571.68 L449.99,565.35 L447.30,558.86 L444.41,552.20 L441.30,545.36 L437.97,538.33 L434.37,531.11 L430.51,523.68 L426.35,516.03 L421.87,508.15 L417.05,500.01 L411.86,491.61 L406.28,482.93 L400.28,473.94 L393.84,464.63 L386.93,454.97 L379.55,444.93 L371.68,434.49 L363.29,423.61 L354.40,412.24 L345.00,400.35 L335.09,387.88 L324.68,374.78 L313.80,360.98 L302.45,346.39 L290.66,330.93 L278.44,314.48 L265.82,296.90 L252.81,278.04 L239.42,257.69 L225.68,235.59 L211.60,211.41 L197.21,184.72 L182.56,154.95 L167.71,121.28 L152.83,82.53 L138.18,36.90" stroke="#008000" stroke-width="1.67" fill="none" stroke-dasharray="6.17 2.67" stroke-opacity="0.22"/>
<path d="M509.09,642.36 L508.52,637.56 L507.89,632.67 L507.22,627.69 L506.50,622.61 L505.72,617.42 L504.88,612.13 L503.97,606.73 L502.99,601.21 L501.94,595.57 L500.79,589.80 L499.55,583.90 L498.22,577.87 L496.76,571.68 L495.19,565.35 L493.48,558.86 L491.63,552.20 L489.61,545.36 L487.41,538.33 L485.01,531.11 L482.40,523.68 L479.54,516.03 L476.42,508.15 L473.01,500.01 L469.27,491.61 L465.17,482.93 L460.68,473.94 L455.75,464.63 L450.34,454.97 L444.42,444.93 L437.93,434.49 L430.84,423.61 L423.09,412.24 L414.67,400.35 L405.53,387.88 L395.66,374.78 L385.05,360.98 L373.71,346.39 L361.65,330.93 L348.90,314.48 L335.48,296.90 L321.43,278.04 L306.80,257.69 L291.61,235.59 L275.90,211.41 L259.70,184.72 L243.05,154.95 L226.00,121.28 L208.66,82.53 L191.26,36.90" stroke="#008000" stroke-width="1.67" fill="none" stroke-dasharray="6.17 2.67" stroke-opacity="0.22"/>
<path d="M544.73,642.36 L544.60,637.56 L544.45,632.67 L544.27,627.69 L544.06,622.61 L543.82,617.42 L543.55,612.13 L543.24,606.73 L542.88,601.21 L542.49,595.57 L542.04,589.80 L541.53,583.90 L540.97,577.87 L540.33,571.68 L539.62,565.35 L538.83,558.86 L537.95,552.20 L536.96,545.36 L535.86,538.33 L534.63,531.11 L533.26,523.68 L531.72,516.03 L530.01,508.15 L528.09,500.01 L525.95,491.61 L523.54,482.93 L520.85,473.94 L517.82,464.63 L514.41,454.97 L510.57,444.93 L506.25,434.49 L501.37,423.61 L495.86,412.24 L489.66,400.35 L482.66,387.88 L474.78,374.78 L465.95,360.98 L456.07,346.39 L445.10,330.93 L432.99,314.48 L419.74,296.90 L405.36,278.04 L389.90,257.69 L373.44,235.59 L356.05,211.41 L337.80,184.72 L318.76,154.95 L299.01,121.28 L278.63,82.53 L257.79,36.90" stroke="#008000" stroke-width="1.67" fill="none" stroke-dasharray="6.17 2.67" stroke-opacity="0.22"/>
<path d="M580.52,642.36 L580.78,637.56 L581.04,632.67 L581.29,627.69 L581.52,622.61 L581.75,617.42 L581.96,612.13 L582.16,606.73 L582.34,601.21 L582.51,595.57 L582.65,589.80 L582.77,583.90 L582.86,577.87 L582.93,571.68 L582.96,565.35 L582.95,558.86 L582.90,552.20 L582.80,545.36 L582.65,538.33 L582.43,531.11 L582.14,523.68 L581.76,516.03 L581.30,508.15 L580.72,500.01 L580.02,491.61 L579.18,482.93 L578.17,473.94 L576.97,464.63 L575.55,454.97 L573.87,444.93 L571.88,434.49 L569.54,423.61 L566.77,412.24 L563.51,400.35 L559.65,387.88 L555.09,374.78 L549.71,360.98 L543.34,346.39 L535.81,330.93 L526.93,314.48 L516.50,296.90 L504.34,278.04 L490.31,257.69 L474.34,235.59 L456.45,211.41 L436.74,184.72 L415.38,154.95 L392.56,121.28 L368.46,82.53 L343.26,36.90" stroke="#008000" stroke-width="1.67" fill="none" stroke-dasharray="6.17 2.67" stroke-opacity="0.22"/>
<path d="M616.49,642.36 L617.08,637.56 L617.67,632.67 L618.27,627.69 L618.88,622.61 L619.48,617.42 L620.10,612.13 L620.72,606.73 L621.34,601.21 L621.96,595.57 L622.59,589.80 L623.22,583.90 L623.85,577.87 L624.48,571.68 L625.11,565.35 L625.74,558.86 L626.36,552.20 L626.97,545.36 L627.57,538.33 L628.16,531.11 L628.73,523.68 L629.28,516.03 L629.81,508.15 L630.30,500.01 L630.76,491.61 L631.16,482.93 L631.51,473.94 L631.79,464.63 L631.98,454.97 L632.07,444.93 L632.04,434.49 L631.85,423.61 L631.47,412.24 L630.86,400.35 L629.97,387.88 L628.72,374.78 L627.04,360.98 L624.80,346.39 L621.87,330.93 L618.06,314.48 L613.12,296.90 L606.73,278.04 L598.52,257.69 L587.98,235.59 L574.60,211.41 L557.87,184.72 L537.47,154.95 L513.39,121.28 L485.97,82.53 L455.73,36.90" stroke="#008000" stroke-width="1.67" fill="none" stroke-dasharray="6.17 2.67" stroke-opacity="0.22"/>
<path d="M652.63,642.36 L653.48,637.56 L654.35,632.67 L655.23,627.69 L656.13,622.61 L657.04,617.42 L657.98,612.13 L658.93,606.73 L659.90,601.21 L660.89,595.57 L661.90,589.80 L662.93,583.90 L663.98,577.87 L665.05,571.68 L666.14,565.35 L667.26,558.86 L668.39,552.20 L669.55,545.36 L670.73,538.33 L671.94,531.11 L673.16,523.68 L674.41,516.03 L675.68,508.15 L676.97,500.01 L678.28,491.61 L679.61,482.93 L680.95,473.94 L682.31,464.63 L683.69,454.97 L685.06,444.93 L686.44,434.49 L687.81,423.61 L689.16,412.24 L690.47,400.35 L691.74,387.88 L692.93,374.78 L694.01,360.98 L694.95,346.39 L695.67,330.93 L696.11,314.48 L696.14,296.90 L695.61,278.04 L694.28,257.69 L691.82,235.59 L687.72,211.41 L681.22,184.72 L671.20,154.95 L656.10,121.28 L634.13,82.53 L604.00,36.90" stroke="#008000" stroke-width="1.67" fill="none" stroke-dasharray="6.17 2.67" stroke-opacity="0.22"/>
<path d="M688.92,642.36 L689.98,637.56 L691.05,632.67 L692.16,627.69 L693.29,622.61 L694.44,617.42 L695.62,612.13 L696.83,606.73 L698.07,601.21 L699.34,595.57 L700.64,589.80 L701.98,583.90 L703.35,577.87 L704.75,571.68 L706.19,565.35 L707.67,558.86 L709.19,552.20 L710.76,545.36 L712.37,538.33 L714.02,531.11 L715.72,523.68 L717.48,516.03 L719.28,508.15 L721.15,500.01 L723.07,491.61 L725.05,482.93 L727.10,473.94 L729.22,464.63 L731.41,454.97 L733.67,444.93 L736.01,434.49 L738.43,423.61 L740.94,412.24 L743.53,400.35 L746.22,387.88 L749.00,374.78 L751.87,360.98 L754.84,346.39 L757.89,330.93 L761.02,314.48 L764.21,296.90 L767.43,278.04 L770.63,257.69 L773.72,235.59 L776.57,211.41 L778.92,184.72 L780.36,154.95 L780.10,121.28 L776.61,82.53 L766.90,36.90" stroke="#008000" stroke-width="1.67" fill="none" stroke-dasharray="6.17 2.67" stroke-opacity="0.22"/>
<path d="M725.34,642.36 L726.55,637.56 L727.79,632.67 L729.07,627.69 L730.37,622.61 L731.70,617.42 L733.07,612.13 L734.47,606.73 L735.91,601.21 L737.39,595.57 L738.91,589.80 L740.47,583.90 L742.07,577.87 L743.72,571.68 L745.42,565.35 L747.16,558.86 L748.97,552.20 L750.82,545.36 L752.74,538.33 L754.72,531.11 L756.76,523.68 L758.87,516.03 L761.06,508.15 L763.32,500.01 L765.67,491.61 L768.11,482.93 L770.64,473.94 L773.27,464.63 L776.02,454.97 L778.87,444.93 L781.86,434.49 L784.97,423.61 L788.24,412.24 L791.66,400.35 L795.25,387.88 L799.03,374.78 L803.02,360.98 L807.23,346.39 L811.68,330.93 L816.41,314.48 L821.44,296.90 L826.80,278.04 L832.53,257.69 L838.66,235.59 L845.25,211.41 L852.31,184.72 L859.89,154.95 L867.94,121.28 L876.32,82.53 L884.53,36.90" stroke="#008000" stroke-width="1.67" fill="none" stroke-dasharray="6.17 2.67" stroke-opacity="0.22"/>
<path d="M761.87,642.36 L763.20,637.56 L764.56,632.67 L765.95,627.69 L767.38,622.61 L768.85,617.42 L770.35,612.13 L771.89,606.73 L773.48,601.21 L775.10,595.57 L776.78,589.80 L778.50,583.90 L780.27,577.87 L782.09,571.68 L783.97,565.35 L785.90,558.86 L787.90,552.20 L789.96,545.36 L792.09,538.33 L794.29,531.11 L796.57,523.68 L798.93,516.03 L801.38,508.15 L803.92,500.01 L806.56,491.61 L809.30,482.93 L812.16,473.94 L815.14,464.63 L818.25,454.97 L821.50,444.93 L824.90,434.49 L828.47,423.61 L832.22,412.24 L836.17,400.35 L840.34,387.88 L844.75,374.78 L849.42,360.98 L854.39,346.39 L859.69,330.93 L865.37,314.48 L871.47,296.90 L878.05,278.04 L885.19,257.69 L892.98,235.59 L901.54,211.41 L911.01,184.72 L921.58,154.95 L933.52,121.28 L947.17,82.53 L963.01,36.90" stroke="#008000" stroke-width="1.67" fill="none" stroke-dasharray="6.17 2.67" stroke-opacity="0.22"/>
<path d="M81.56,642.36 L83.58,639.60 L85.61,636.80 L87.67,633.97 L89.76,631.11 L91.86,628.22 L94.00,625.29 L96.15,622.34 L98.34,619.34 L100.55,616.32 L102.79,613.25 L105.05,610.15 L107.35,607.01 L109.67,603.84 L112.02,600.62 L114.41,597.36 L116.82,594.06 L119.27,590.72 L121.75,587.33 L124.27,583.90 L126.82,580.42 L129.41,576.90 L132.03,573.33 L134.69,569.70 L137.39,566.02 L140.14,562.30 L142.92,558.51 L145.75,554.67 L148.62,550.77 L151.53,546.81 L154.50,542.79 L157.51,538.71 L160.57,534.56 L163.68,530.34 L166.85,526.05 L170.07,521.69 L173.36,517.25 L176.69,512.74 L180.10,508.15 L183.56,503.47 L187.09,498.70 L190.69,493.85 L194.36,488.90 L198.11,483.86 L201.93,478.71 L205.84,473.46 L209.82,468.10 L213.90,462.63 L218.06,457.04 L222.32,451.32" stroke="#1e90ff" stroke-width="1.67" fill="none" stroke-dasharray="1.67 2.75" stroke-opacity="0.85"/>
<path d="M131.80,642.36 L133.77,639.60 L135.75,636.80 L137.76,633.97 L139.79,631.11 L141.84,628.22 L143.92,625.29 L146.02,622.34 L148.15,619.34 L150.31,616.32 L152.49,613.25 L154.70,610.15 L156.93,607.01 L159.20,603.84 L161.49,600.62 L163.82,597.36 L166.17,594.06 L168.56,590.72 L170.98,587.33 L173.43,583.90 L175.92,580.42 L178.45,576.90 L181.01,573.33 L183.60,569.70 L186.24,566.02 L188.91,562.30 L191.63,558.51 L194.39,554.67 L197.19,550.77 L200.04,546.81 L202.93,542.79 L205.87,538.71 L208.86,534.56 L211.90,530.34 L214.99,526.05 L218.14,521.69 L221.34,517.25 L224.60,512.74 L227.92,508.15 L231.31,503.47 L234.76,498.70 L238.27,493.85 L241.86,488.90 L245.52,483.86 L249.25,478.71 L253.07,473.46 L256.96,468.10 L260.94,462.63 L265.02,457.04 L269.18,451.32" stroke="#1e90ff" stroke-width="1.67" fill="none" stroke-dasharray="1.67 2.75" stroke-opacity="0.85"/>
<path d="M185.53,642.36 L187.44,639.60 L189.37,636.80 L191.32,633.97 L193.29,631.11 L195.28,628.22 L197.30,625.29 L199.34,622.34 L201.41,619.34 L203.50,616.32 L205.62,613.25 L207.77,610.15 L209.94,607.01 L212.14,603.84 L214.37,600.62 L216.63,597.36 L218.92,594.06 L221.24,590.72 L223.59,587.33 L225.98,583.90 L228.40,580.42 L230.85,576.90 L233.34,573.33 L235.87,569.70 L238.43,566.02 L241.03,562.30 L243.67,558.51 L246.35,554.67 L249.08,550.77 L251.85,546.81 L254.66,542.79 L257.52,538.71 L260.43,534.56 L263.39,530.34 L266.40,526.05 L269.46,521.69 L272.58,517.25 L275.75,512.74 L278.99,508.15 L282.28,503.47 L285.64,498.70 L289.06,493.85 L292.56,488.90 L296.12,483.86 L299.76,478.71 L303.47,473.46 L307.27,468.10 L311.15,462.63 L315.12,457.04 L319.18,451.32" stroke="#1e90ff" stroke-width="1.67" fill="none" stroke-dasharray="1.67 2.75" stroke-opacity="0.85"/>
<path d="M218.73,642.36 L220.60,639.60 L222.49,636.80 L224.40,633.97 L226.33,631.11 L228.29,628.22 L230.27,625.29 L232.28,622.34 L234.30,619.34 L236.36,616.32 L238.44,613.25 L240.54,610.15 L242.68,607.01 L244.84,603.84 L247.03,600.62 L249.24,597.36 L251.49,594.06 L253.77,590.72 L256.08,587.33 L258.42,583.90 L260.79,580.42 L263.20,576.90 L265.65,573.33 L268.13,569.70 L270.64,566.02 L273.20,562.30 L275.79,558.51 L278.43,554.67 L281.10,550.77 L283.82,546.81 L286.59,542.79 L289.40,538.71 L292.25,534.56 L295.16,530.34 L298.12,526.05 L301.13,521.69 L304.19,517.25 L307.31,512.74 L310.49,508.15 L313.73,503.47 L317.03,498.70 L320.39,493.85 L323.83,488.90 L327.33,483.86 L330.91,478.71 L334.56,473.46 L338.29,468.10 L342.11,462.63 L346.01,457.04 L350.00,451.32" stroke="#1e90ff" stroke-width="1.67" fill="none" stroke-dasharray="1.67 2.75" stroke-opacity="0.85"/>
<path d="M262.54,642.36 L264.36,639.60 L266.21,636.80 L268.07,633.97 L269.95,631.11 L271.86,628.22 L273.79,625.29 L275.74,622.34 L277.72,619.34 L279.72,616.32 L281.74,613.25 L283.80,610.15 L285.87,607.01 L287.98,603.84 L290.11,600.62 L292.27,597.36 L294.46,594.06 L296.68,590.72 L298.94,587.33 L301.22,583.90 L303.53,580.42 L305.88,576.90 L308.27,573.33 L310.68,569.70 L313.14,566.02 L315.63,562.30 L318.16,558.51 L320.73,554.67 L323.34,550.77 L326.00,546.81 L328.69,542.79 L331.43,538.71 L334.22,534.56 L337.06,530.34 L339.94,526.05 L342.88,521.69 L345.87,517.25 L348.92,512.74 L352.02,508.15 L355.18,503.47 L358.40,498.70 L361.69,493.85 L365.05,488.90 L368.47,483.86 L371.96,478.71 L375.53,473.46 L379.18,468.10 L382.90,462.63 L386.72,457.04 L390.62,451.32" stroke="#1e90ff" stroke-width="1.67" fill="none" stroke-dasharray="1.67 2.75" stroke-opacity="0.85"/>
<path d="M299.01,642.36 L300.79,639.60 L302.59,636.80 L304.41,633.97 L306.25,631.11 L308.11,628.22 L310.00,625.29 L311.91,622.34 L313.84,619.34 L315.79,616.32 L317.78,613.25 L319.78,610.15 L321.81,607.01 L323.87,603.84 L325.96,600.62 L328.07,597.36 L330.21,594.06 L332.38,590.72 L334.59,587.33 L336.82,583.90 L339.08,580.42 L341.38,576.90 L343.71,573.33 L346.08,569.70 L348.48,566.02 L350.92,562.30 L353.39,558.51 L355.91,554.67 L358.46,550.77 L361.06,546.81 L363.70,542.79 L366.39,538.71 L369.11,534.56 L371.89,530.34 L374.72,526.05 L377.59,521.69 L380.52,517.25 L383.50,512.74 L386.54,508.15 L389.64,503.47 L392.80,498.70 L396.02,493.85 L399.30,488.90 L402.65,483.86 L406.08,478.71 L409.57,473.46 L413.15,468.10 L416.80,462.63 L420.54,457.04 L424.36,451.32" stroke="#1e90ff" stroke-width="1.67" fill="none" stroke-dasharray="1.67 2.75" stroke-opacity="0.85"/>
<path d="M325.84,642.36 L327.59,639.60 L329.36,636.80 L331.15,633.97 L332.96,631.11 L334.79,628.22 L336.64,625.29 L338.51,622.34 L340.41,619.34 L342.33,616.32 L344.28,613.25 L346.25,610.15 L348.25,607.01 L350.27,603.84 L352.32,600.62 L354.40,597.36 L356.51,594.06 L358.64,590.72 L360.81,587.33 L363.00,583.90 L365.23,580.42 L367.49,576.90 L369.78,573.33 L372.11,569.70 L374.47,566.02 L376.87,562.30 L379.30,558.51 L381.78,554.67 L384.29,550.77 L386.84,546.81 L389.44,542.79 L392.08,538.71 L394.77,534.56 L397.50,530.34 L400.28,526.05 L403.11,521.69 L405.99,517.25 L408.93,512.74 L411.92,508.15 L414.97,503.47 L418.07,498.70 L421.24,493.85 L424.48,488.90 L427.78,483.86 L431.15,478.71 L434.59,473.46 L438.11,468.10 L441.71,462.63 L445.39,457.04 L449.16,451.32" stroke="#1e90ff" stroke-width="1.67" fill="none" stroke-dasharray="1.67 2.75" stroke-opacity="0.85"/>
<path d="M365.08,642.36 L366.78,639.60 L368.50,636.80 L370.24,633.97 L372.00,631.11 L373.78,628.22 L375.59,625.29 L377.41,622.34 L379.26,619.34 L381.13,616.32 L383.03,613.25 L384.95,610.15 L386.89,607.01 L388.87,603.84 L390.86,600.62 L392.89,597.36 L394.94,594.06 L397.02,590.72 L399.13,587.33 L401.27,583.90 L403.44,580.42 L405.64,576.90 L407.87,573.33 L410.14,569.70 L412.45,566.02 L414.78,562.30 L417.16,558.51 L419.57,554.67 L422.02,550.77 L424.51,546.81 L427.05,542.79 L429.62,538.71 L432.24,534.56 L434.91,530.34 L437.62,526.05 L440.38,521.69 L443.20,517.25 L446.06,512.74 L448.98,508.15 L451.96,503.47 L454.99,498.70 L458.09,493.85 L461.24,488.90 L464.47,483.86 L467.76,478.71 L471.12,473.46 L474.56,468.10 L478.08,462.63 L481.67,457.04 L485.35,451.32" stroke="#1e90ff" stroke-width="1.67" fill="none" stroke-dasharray="1.67 2.75" stroke-opacity="0.85"/>
<path d="M393.96,642.36 L395.63,639.60 L397.31,636.80 L399.02,633.97 L400.74,631.11 L402.49,628.22 L404.25,625.29 L406.04,622.34 L407.86,619.34 L409.69,616.32 L411.55,613.25 L413.43,610.15 L415.34,607.01 L417.27,603.84 L419.22,600.62 L421.21,597.36 L423.22,594.06 L425.26,590.72 L427.33,587.33 L429.42,583.90 L431.55,580.42 L433.71,576.90 L435.90,573.33 L438.13,569.70 L440.39,566.02 L442.68,562.30 L445.01,558.51 L447.38,554.67 L449.78,550.77 L452.22,546.81 L454.71,542.79 L457.24,538.71 L459.81,534.56 L462.42,530.34 L465.09,526.05 L467.80,521.69 L470.56,517.25 L473.37,512.74 L476.24,508.15 L479.16,503.47 L482.14,498.70 L485.18,493.85 L488.28,488.90 L491.44,483.86 L494.68,478.71 L497.98,473.46 L501.36,468.10 L504.81,462.63 L508.35,457.04 L511.96,451.32" stroke="#1e90ff" stroke-width="1.67" fill="none" stroke-dasharray="1.67 2.75" stroke-opacity="0.85"/>
<path d="M436.20,642.36 L437.82,639.60 L439.45,636.80 L441.10,633.97 L442.77,631.11 L444.46,628.22 L446.18,625.29 L447.91,622.34 L449.67,619.34 L451.44,616.32 L453.24,613.25 L455.07,610.15 L456.92,607.01 L458.79,603.84 L460.69,600.62 L462.61,597.36 L464.56,594.06 L466.54,590.72 L468.55,587.33 L470.58,583.90 L472.65,580.42 L474.74,576.90 L476.87,573.33 L479.03,569.70 L481.22,566.02 L483.45,562.30 L485.71,558.51 L488.01,554.67 L490.34,550.77 L492.72,546.81 L495.13,542.79 L497.59,538.71 L500.09,534.56 L502.63,530.34 L505.22,526.05 L507.85,521.69 L510.53,517.25 L513.27,512.74 L516.05,508.15 L518.89,503.47 L521.79,498.70 L524.75,493.85 L527.76,488.90 L530.84,483.86 L533.99,478.71 L537.21,473.46 L540.49,468.10 L543.85,462.63 L547.29,457.04 L550.82,451.32" stroke="#1e90ff" stroke-width="1.67" fill="none" stroke-dasharray="1.67 2.75" stroke-opacity="0.85"/>
<path d="M467.29,642.36 L468.87,639.60 L470.46,636.80 L472.07,633.97 L473.70,631.11 L475.35,628.22 L477.03,625.29 L478.72,622.34 L480.43,619.34 L482.17,616.32 L483.93,613.25 L485.71,610.15 L487.51,607.01 L489.34,603.84 L491.19,600.62 L493.07,597.36 L494.98,594.06 L496.91,590.72 L498.87,587.33 L500.86,583.90 L502.88,580.42 L504.93,576.90 L507.00,573.33 L509.11,569.70 L511.26,566.02 L513.43,562.30 L515.64,558.51 L517.89,554.67 L520.17,550.77 L522.50,546.81 L524.86,542.79 L527.26,538.71 L529.70,534.56 L532.19,530.34 L534.72,526.05 L537.30,521.69 L539.92,517.25 L542.60,512.74 L545.32,508.15 L548.10,503.47 L550.94,498.70 L553.83,493.85 L556.79,488.90 L559.80,483.86 L562.88,478.71 L566.03,473.46 L569.25,468.10 L572.54,462.63 L575.91,457.04 L579.36,451.32" stroke="#1e90ff" stroke-width="1.67" fill="none" stroke-dasharray="1.67 2.75" stroke-opacity="0.85"/>
<path d="M492.06,642.36 L493.60,639.60 L495.16,636.80 L496.74,633.97 L498.34,631.11 L499.96,628.22 L501.60,625.29 L503.26,622.34 L504.94,619.34 L506.64,616.32 L508.36,613.25 L510.11,610.15 L511.88,607.01 L513.67,603.84 L515.49,600.62 L517.33,597.36 L519.20,594.06 L521.10,590.72 L523.02,587.33 L524.97,583.90 L526.95,580.42 L528.96,576.90 L531.00,573.33 L533.07,569.70 L535.17,566.02 L537.31,562.30 L539.48,558.51 L541.68,554.67 L543.92,550.77 L546.20,546.81 L548.52,542.79 L550.88,538.71 L553.28,534.56 L555.72,530.34 L558.20,526.05 L560.74,521.69 L563.31,517.25 L565.94,512.74 L568.62,508.15 L571.35,503.47 L574.14,498.70 L576.98,493.85 L579.88,488.90 L582.85,483.86 L585.87,478.71 L588.97,473.46 L592.13,468.10 L595.37,462.63 L598.68,457.04 L602.08,451.32" stroke="#1e90ff" stroke-width="1.67" fill="none" stroke-dasharray="1.67 2.75" stroke-opacity="0.85"/>
<path d="M521.91,642.36 L523.41,639.60 L524.93,636.80 L526.47,633.97 L528.03,631.11 L529.61,628.22 L531.21,625.29 L532.83,622.34 L534.46,619.34 L536.12,616.32 L537.81,613.25 L539.51,610.15 L541.24,607.01 L542.99,603.84 L544.76,600.62 L546.56,597.36 L548.38,594.06 L550.23,590.72 L552.11,587.33 L554.02,583.90 L555.95,580.42 L557.91,576.90 L559.90,573.33 L561.92,569.70 L563.98,566.02 L566.06,562.30 L568.18,558.51 L570.34,554.67 L572.53,550.77 L574.76,546.81 L577.02,542.79 L579.32,538.71 L581.67,534.56 L584.06,530.34 L586.49,526.05 L588.96,521.69 L591.48,517.25 L594.05,512.74 L596.67,508.15 L599.35,503.47 L602.07,498.70 L604.85,493.85 L607.69,488.90 L610.59,483.86 L613.56,478.71 L616.58,473.46 L619.68,468.10 L622.85,462.63 L626.10,457.04 L629.42,451.32" stroke="#1e90ff" stroke-width="1.67" fill="none" stroke-dasharray="1.67 2.75" stroke-opacity="0.85"/>
<path d="M546.09,642.36 L547.56,639.60 L549.05,636.80 L550.56,633.97 L552.08,631.11 L553.63,628.22 L555.19,625.29 L556.78,622.34 L558.38,619.34 L560.01,616.32 L561.65,613.25 L563.32,610.15 L565.01,607.01 L566.73,603.84 L568.47,600.62 L570.23,597.36 L572.02,594.06 L573.83,590.72 L575.67,587.33 L577.54,583.90 L579.43,580.42 L581.35,576.90 L583.30,573.33 L585.29,569.70 L587.30,566.02 L589.35,562.30 L591.43,558.51 L593.54,554.67 L595.69,550.77 L597.87,546.81 L600.09,542.79 L602.35,538.71 L604.65,534.56 L607.00,530.34 L609.38,526.05 L611.81,521.69 L614.28,517.25 L616.81,512.74 L619.38,508.15 L622.00,503.47 L624.68,498.70 L627.41,493.85 L630.20,488.90 L633.04,483.86 L635.96,478.71 L638.93,473.46 L641.97,468.10 L645.09,462.63 L648.27,457.04 L651.54,451.32" stroke="#1e90ff" stroke-width="1.67" fill="none" stroke-dasharray="1.67 2.75" stroke-opacity="0.85"/>
<path d="M572.61,642.36 L574.04,639.60 L575.50,636.80 L576.97,633.97 L578.46,631.11 L579.97,628.22 L581.50,625.29 L583.04,622.34 L584.61,619.34 L586.20,616.32 L587.81,613.25 L589.44,610.15 L591.09,607.01 L592.76,603.84 L594.46,600.62 L596.18,597.36 L597.93,594.06 L599.70,590.72 L601.50,587.33 L603.32,583.90 L605.18,580.42 L607.06,576.90 L608.96,573.33 L610.90,569.70 L612.87,566.02 L614.87,562.30 L616.91,558.51 L618.97,554.67 L621.07,550.77 L623.21,546.81 L625.38,542.79 L627.60,538.71 L629.85,534.56 L632.14,530.34 L634.47,526.05 L636.85,521.69 L639.27,517.25 L641.74,512.74 L644.26,508.15 L646.83,503.47 L649.45,498.70 L652.13,493.85 L654.86,488.90 L657.65,483.86 L660.50,478.71 L663.42,473.46 L666.40,468.10 L669.45,462.63 L672.57,457.04 L675.77,451.32" stroke="#1e90ff" stroke-width="1.67" fill="none" stroke-dasharray="1.67 2.75" stroke-opacity="0.85"/>
<path d="M599.67,642.36 L601.07,639.60 L602.48,636.80 L603.92,633.97 L605.37,631.11 L606.84,628.22 L608.33,625.29 L609.84,622.34 L611.37,619.34 L612.92,616.32 L614.48,613.25 L616.07,610.15 L617.69,607.01 L619.32,603.84 L620.98,600.62 L622.66,597.36 L624.36,594.06 L626.09,590.72 L627.85,587.33 L629.63,583.90 L631.43,580.42 L633.27,576.90 L635.13,573.33 L637.03,569.70 L638.95,566.02 L640.90,562.30 L642.89,558.51 L644.91,554.67 L646.96,550.77 L649.05,546.81 L651.17,542.79 L653.33,538.71 L655.53,534.56 L657.78,530.34 L660.06,526.05 L662.38,521.69 L664.75,517.25 L667.17,512.74 L669.63,508.15 L672.14,503.47 L674.71,498.70 L677.32,493.85 L680.00,488.90 L682.73,483.86 L685.52,478.71 L688.37,473.46 L691.29,468.10 L694.28,462.63 L697.34,457.04 L700.47,451.32" stroke="#1e90ff" stroke-width="1.67" fill="none" stroke-dasharray="1.67 2.75" stroke-opacity="0.85"/>
<path d="M622.15,642.36 L623.52,639.60 L624.91,636.80 L626.31,633.97 L627.73,631.11 L629.17,628.22 L630.63,625.29 L632.10,622.34 L633.60,619.34 L635.11,616.32 L636.65,613.25 L638.21,610.15 L639.78,607.01 L641.38,603.84 L643.01,600.62 L644.65,597.36 L646.32,594.06 L648.01,590.72 L649.73,587.33 L651.48,583.90 L653.25,580.42 L655.04,576.90 L656.87,573.33 L658.72,569.70 L660.61,566.02 L662.52,562.30 L664.47,558.51 L666.45,554.67 L668.46,550.77 L670.51,546.81 L672.59,542.79 L674.71,538.71 L676.87,534.56 L679.06,530.34 L681.30,526.05 L683.58,521.69 L685.91,517.25 L688.28,512.74 L690.69,508.15 L693.16,503.47 L695.67,498.70 L698.24,493.85 L700.87,488.90 L703.55,483.86 L706.29,478.71 L709.09,473.46 L711.96,468.10 L714.89,462.63 L717.90,457.04 L720.97,451.32" stroke="#1e90ff" stroke-width="1.67" fill="none" stroke-dasharray="1.67 2.75" stroke-opacity="0.85"/>
<path d="M644.95,642.36 L646.29,639.60 L647.65,636.80 L649.02,633.97 L650.40,631.11 L651.81,628.22 L653.23,625.29 L654.68,622.34 L656.14,619.34 L657.62,616.32 L659.12,613.25 L660.64,610.15 L662.19,607.01 L663.75,603.84 L665.34,600.62 L666.95,597.36 L668.58,594.06 L670.24,590.72 L671.92,587.33 L673.62,583.90 L675.36,580.42 L677.12,576.90 L678.90,573.33 L680.72,569.70 L682.56,566.02 L684.44,562.30 L686.34,558.51 L688.28,554.67 L690.25,550.77 L692.26,546.81 L694.30,542.79 L696.37,538.71 L698.49,534.56 L700.64,530.34 L702.83,526.05 L705.07,521.69 L707.34,517.25 L709.67,512.74 L712.04,508.15 L714.45,503.47 L716.92,498.70 L719.44,493.85 L722.01,488.90 L724.64,483.86 L727.33,478.71 L730.08,473.46 L732.89,468.10 L735.77,462.63 L738.72,457.04 L741.74,451.32" stroke="#1e90ff" stroke-width="1.67" fill="none" stroke-dasharray="1.67 2.75" stroke-opacity="0.85"/>
<path d="M664.45,642.36 L665.76,639.60 L667.09,636.80 L668.43,633.97 L669.79,631.11 L671.17,628.22 L672.57,625.29 L673.98,622.34 L675.41,619.34 L676.87,616.32 L678.34,613.25 L679.83,610.15 L681.34,607.01 L682.88,603.84 L684.43,600.62 L686.01,597.36 L687.61,594.06 L689.24,590.72 L690.89,587.33 L692.56,583.90 L694.26,580.42 L695.99,576.90 L697.74,573.33 L699.52,569.70 L701.33,566.02 L703.17,562.30 L705.04,558.51 L706.94,554.67 L708.88,550.77 L710.85,546.81 L712.85,542.79 L714.89,538.71 L716.96,534.56 L719.08,530.34 L721.23,526.05 L723.43,521.69 L725.67,517.25 L727.95,512.74 L730.28,508.15 L732.65,503.47 L735.08,498.70 L737.55,493.85 L740.08,488.90 L742.67,483.86 L745.31,478.71 L748.01,473.46 L750.78,468.10 L753.61,462.63 L756.51,457.04 L759.48,451.32" stroke="#1e90ff" stroke-width="1.67" fill="none" stroke-dasharray="1.67 2.75" stroke-opacity="0.85"/>
<path d="M422.70,36.80 C422.42,37.73 421.65,40.33 421.00,42.40 C420.35,44.47 419.73,46.75 418.80,49.20 C417.87,51.65 416.53,54.65 415.40,57.10 C414.27,59.55 413.13,61.07 412.00,63.90 C410.87,66.73 409.92,71.08 408.60,74.10 C407.28,77.12 405.80,79.55 404.10,82.00 C402.40,84.45 400.48,86.35 398.40,88.80 C396.32,91.25 393.63,93.70 391.60,96.70 C389.57,99.70 387.58,103.80 386.20,106.80 C384.82,109.80 383.78,112.07 383.30,114.70 C382.82,117.33 383.02,119.58 383.30,122.60 C383.58,125.62 384.23,129.42 385.00,132.80 C385.77,136.18 386.95,139.33 387.90,142.90 C388.85,146.47 389.67,150.62 390.70,154.20 C391.73,157.78 392.98,161.08 394.10,164.40 C395.22,167.72 395.92,170.60 397.40,174.10 C398.88,177.60 401.32,182.13 403.00,185.40 C404.68,188.67 405.82,190.43 407.50,193.70 C409.18,196.97 411.22,201.23 413.10,205.00 C414.98,208.77 416.92,212.53 418.80,216.30 C420.68,220.07 422.33,223.83 424.40,227.60 C426.47,231.37 429.13,235.33 431.20,238.90 C433.27,242.47 434.73,245.43 436.80,249.00 C438.87,252.57 441.53,256.53 443.60,260.30 C445.67,264.07 447.42,268.02 449.20,271.60 C450.98,275.18 452.30,278.22 454.30,281.80 C456.30,285.38 458.87,289.33 461.20,293.10 C463.53,296.87 465.95,300.75 468.30,304.40 C470.65,308.05 473.03,311.73 475.30,315.00 C477.57,318.27 479.58,320.80 481.90,324.00 C484.22,327.20 487.08,331.37 489.20,334.20 C491.32,337.03 492.53,338.17 494.60,341.00 C496.67,343.83 499.48,347.82 501.60,351.20 C503.72,354.58 505.98,358.10 507.30,361.30 C508.62,364.50 509.03,367.38 509.50,370.40 C509.97,373.42 509.33,376.58 510.10,379.40 C510.87,382.22 512.68,384.85 514.10,387.30 C515.52,389.75 516.25,391.38 518.60,394.10 C520.95,396.82 525.27,400.33 528.20,403.60 C531.13,406.87 534.32,410.50 536.20,413.70 C538.08,416.90 538.33,420.22 539.50,422.80 C540.67,425.38 542.10,427.18 543.20,429.20 C544.30,431.22 545.07,433.13 546.10,434.90 C547.13,436.67 548.82,438.38 549.40,439.80 C549.98,441.22 549.80,442.22 549.60,443.40 C549.40,444.58 548.90,445.50 548.20,446.90 C547.50,448.30 546.23,450.62 545.40,451.80 C544.57,452.98 544.73,453.28 543.20,454.00 C541.67,454.72 538.08,455.47 536.20,456.10 C534.32,456.73 532.97,456.98 531.90,457.80 C530.83,458.62 529.97,459.75 529.80,461.00 C529.63,462.25 530.37,463.88 530.90,465.30 C531.43,466.72 532.62,467.88 533.00,469.50 C533.38,471.12 533.72,472.43 533.20,475.00 C532.68,477.57 530.73,481.75 529.90,484.90 C529.07,488.05 528.28,491.27 528.20,493.90 C528.12,496.53 528.45,498.25 529.40,500.70 C530.35,503.15 531.83,505.97 533.90,508.60 C535.97,511.23 538.98,513.68 541.80,516.50 C544.62,519.32 547.97,522.68 550.80,525.50 C553.63,528.32 556.55,531.30 558.80,533.40 C561.05,535.50 561.83,535.95 564.30,538.10 C566.77,540.25 570.50,543.78 573.60,546.30 C576.70,548.82 579.62,550.78 582.90,553.20 C586.18,555.62 589.82,558.18 593.30,560.80 C596.78,563.42 601.08,566.48 603.80,568.90 C606.52,571.32 607.28,572.88 609.60,575.30 C611.92,577.72 615.00,580.88 617.70,583.40 C620.40,585.92 622.70,587.20 625.80,590.40 C628.90,593.60 634.55,600.57 636.30,602.60" stroke="#ff0000" stroke-width="2.7" fill="none" stroke-linejoin="round" stroke-linecap="square"/>
<path d="M392.80,36.80 C391.67,37.73 388.27,40.15 386.00,42.40 C383.73,44.65 381.27,47.67 379.20,50.30 C377.13,52.93 375.20,55.55 373.60,58.20 C372.00,60.85 370.65,63.37 369.60,66.20 C368.55,69.03 367.77,72.20 367.30,75.20 C366.83,78.20 366.60,80.43 366.80,84.20 C367.00,87.97 368.47,93.47 368.50,97.80 C368.53,102.13 366.78,106.82 367.00,110.20 C367.22,113.58 368.58,115.47 369.80,118.10 C371.02,120.73 372.98,123.37 374.30,126.00 C375.62,128.63 377.05,131.65 377.70,133.90 C378.35,136.15 378.38,137.05 378.20,139.50 C378.02,141.95 377.63,145.58 376.60,148.60 C375.57,151.62 373.42,154.78 372.00,157.60 C370.58,160.42 368.85,163.05 368.10,165.50 C367.35,167.95 367.35,170.62 367.50,172.30 C367.65,173.98 367.62,174.10 369.00,175.60 C370.38,177.10 373.35,179.40 375.80,181.30 C378.25,183.20 381.35,185.12 383.70,187.00 C386.05,188.88 388.67,190.73 389.90,192.60 C391.13,194.47 391.47,195.93 391.10,198.20 C390.73,200.47 389.40,203.55 387.70,206.20 C386.00,208.85 383.07,211.47 380.90,214.10 C378.73,216.73 376.12,219.37 374.70,222.00 C373.28,224.63 373.35,227.08 372.40,229.90 C371.45,232.72 369.75,236.45 369.00,238.90 C368.25,241.35 367.80,242.80 367.90,244.60 C368.00,246.40 368.85,248.20 369.60,249.70 C370.35,251.20 371.17,251.63 372.40,253.60 C373.63,255.57 375.12,259.25 377.00,261.50 C378.88,263.75 380.88,265.42 383.70,267.10 C386.52,268.78 390.32,269.90 393.90,271.60 C397.48,273.30 401.82,275.32 405.20,277.30 C408.58,279.28 412.03,281.43 414.20,283.50 C416.37,285.57 417.72,287.35 418.20,289.70 C418.68,292.05 418.70,295.33 417.10,297.60 C415.50,299.87 411.90,301.60 408.60,303.30 C405.30,305.00 401.25,306.30 397.30,307.80 C393.35,309.30 389.45,310.95 384.90,312.30 C380.35,313.65 377.75,314.28 370.00,315.90 C362.25,317.52 348.18,320.38 338.40,322.00 C328.62,323.62 320.33,324.45 311.30,325.60 C302.27,326.75 293.23,327.90 284.20,328.90 C275.17,329.90 266.13,330.88 257.10,331.60 C248.07,332.32 238.83,332.78 230.00,333.20 C221.17,333.62 213.25,333.53 204.10,334.10 C194.95,334.67 179.93,336.18 175.10,336.60 C167.68,340.47 138.02,355.93 130.60,359.80 C127.37,362.87 114.43,375.13 111.20,378.20 C112.50,378.62 115.13,380.12 119.00,380.70 C122.87,381.28 129.73,381.25 134.40,381.70 C139.07,382.15 144.90,383.12 147.00,383.40 C145.23,383.83 141.40,385.42 136.40,386.00 C131.40,386.58 122.65,386.43 117.00,386.90 C111.35,387.37 104.92,388.48 102.50,388.80 C100.53,391.45 94.57,399.50 90.70,404.70 C86.83,409.90 81.20,417.45 79.30,420.00 C79.30,423.33 79.30,436.67 79.30,440.00 C81.13,440.47 84.98,441.83 90.30,442.80 C95.62,443.77 103.85,444.83 111.20,445.80 C118.55,446.77 126.65,447.63 134.40,448.60 C142.15,449.57 149.95,450.57 157.70,451.60 C165.45,452.63 174.72,453.95 180.90,454.80 C187.08,455.65 192.48,456.38 194.80,456.70 C198.67,456.90 209.87,457.47 218.00,457.90 C226.13,458.33 235.27,458.92 243.60,459.30 C251.93,459.68 259.47,459.57 268.00,460.20 C276.53,460.83 284.52,461.95 294.80,463.10 C305.08,464.25 318.08,465.75 329.70,467.10 C341.32,468.45 352.90,469.73 364.50,471.20 C376.10,472.67 388.38,474.48 399.30,475.90 C410.22,477.32 422.73,478.75 430.00,479.70 C437.27,480.65 438.60,480.68 442.90,481.60 C447.20,482.52 451.50,483.90 455.80,485.20 C460.10,486.50 464.62,487.85 468.70,489.40 C472.78,490.95 476.65,492.47 480.30,494.50 C483.95,496.53 487.15,499.45 490.60,501.60 C494.05,503.75 498.30,505.57 501.00,507.40 C503.70,509.23 505.30,510.45 506.80,512.60 C508.30,514.75 508.60,517.72 510.00,520.30 C511.40,522.88 513.97,525.55 515.20,528.10 C516.43,530.65 517.40,533.22 517.40,535.60 C517.40,537.98 516.33,540.13 515.20,542.40 C514.07,544.67 511.63,546.75 510.60,549.20 C509.57,551.65 510.12,554.85 509.00,557.10 C507.88,559.35 505.32,560.82 503.90,562.70 C502.48,564.58 501.17,566.13 500.50,568.40 C499.83,570.67 500.47,573.67 499.90,576.30 C499.33,578.93 497.85,581.75 497.10,584.20 C496.35,586.65 495.22,588.93 495.40,591.00 C495.58,593.07 497.32,594.72 498.20,596.60 C499.08,598.48 500.28,601.35 500.70,602.30" stroke="#008000" stroke-width="2.7" fill="none" stroke-linejoin="round" stroke-linecap="square"/>
<text transform="translate(235.85,53.33) rotate(-45)" x="0" y="4.90" text-anchor="middle" fill="#1f77b4" style="font-family:&quot;Liberation Sans&quot;,sans-serif;font-weight:bold;font-size:13.50px" textLength="33.36" lengthAdjust="spacingAndGlyphs" stroke="#1f77b4" stroke-width="0.35">-100</text>
<text transform="translate(258.92,103.94) rotate(-45)" x="0" y="4.90" text-anchor="middle" fill="#1f77b4" style="font-family:&quot;Liberation Sans&quot;,sans-serif;font-weight:bold;font-size:13.50px" textLength="24.08" lengthAdjust="spacingAndGlyphs" stroke="#1f77b4" stroke-width="0.35">-90</text>
<text transform="translate(284.68,151.85) rotate(-45)" x="0" y="4.90" text-anchor="middle" fill="#1f77b4" style="font-family:&quot;Liberation Sans&quot;,sans-serif;font-weight:bold;font-size:13.50px" textLength="24.08" lengthAdjust="spacingAndGlyphs" stroke="#1f77b4" stroke-width="0.35">-80</text>
<text transform="translate(312.86,197.34) rotate(-45)" x="0" y="4.90" text-anchor="middle" fill="#1f77b4" style="font-family:&quot;Liberation Sans&quot;,sans-serif;font-weight:bold;font-size:13.50px" textLength="24.08" lengthAdjust="spacingAndGlyphs" stroke="#1f77b4" stroke-width="0.35">-70</text>
<text transform="translate(343.22,240.64) rotate(-45)" x="0" y="4.90" text-anchor="middle" fill="#1f77b4" style="font-family:&quot;Liberation Sans&quot;,sans-serif;font-weight:bold;font-size:13.50px" textLength="24.08" lengthAdjust="spacingAndGlyphs" stroke="#1f77b4" stroke-width="0.35">-60</text>
<text transform="translate(375.58,281.96) rotate(-45)" x="0" y="4.90" text-anchor="middle" fill="#1f77b4" style="font-family:&quot;Liberation Sans&quot;,sans-serif;font-weight:bold;font-size:13.50px" textLength="24.08" lengthAdjust="spacingAndGlyphs" stroke="#1f77b4" stroke-width="0.35">-50</text>
<text transform="translate(409.74,321.47) rotate(-45)" x="0" y="4.90" text-anchor="middle" fill="#1f77b4" style="font-family:&quot;Liberation Sans&quot;,sans-serif;font-weight:bold;font-size:13.50px" textLength="24.08" lengthAdjust="spacingAndGlyphs" stroke="#1f77b4" stroke-width="0.35">-40</text>
<text transform="translate(445.57,359.32) rotate(-45)" x="0" y="4.90" text-anchor="middle" fill="#1f77b4" style="font-family:&quot;Liberation Sans&quot;,sans-serif;font-weight:bold;font-size:13.50px" textLength="24.08" lengthAdjust="spacingAndGlyphs" stroke="#1f77b4" stroke-width="0.35">-30</text>
<text transform="translate(482.92,395.64) rotate(-45)" x="0" y="4.90" text-anchor="middle" fill="#1f77b4" style="font-family:&quot;Liberation Sans&quot;,sans-serif;font-weight:bold;font-size:13.50px" textLength="24.08" lengthAdjust="spacingAndGlyphs" stroke="#1f77b4" stroke-width="0.35">-20</text>
<text transform="translate(521.67,430.56) rotate(-45)" x="0" y="4.90" text-anchor="middle" fill="#1f77b4" style="font-family:&quot;Liberation Sans&quot;,sans-serif;font-weight:bold;font-size:13.50px" textLength="24.08" lengthAdjust="spacingAndGlyphs" stroke="#1f77b4" stroke-width="0.35">-10</text>
<text transform="translate(561.73,464.17) rotate(-45)" x="0" y="4.90" text-anchor="middle" fill="#7f7f7f" style="font-family:&quot;Liberation Sans&quot;,sans-serif;font-weight:bold;font-size:13.50px" textLength="9.27" lengthAdjust="spacingAndGlyphs" stroke="#7f7f7f" stroke-width="0.35">0</text>
<text transform="translate(603.00,496.57) rotate(-45)" x="0" y="4.90" text-anchor="middle" fill="#d62728" style="font-family:&quot;Liberation Sans&quot;,sans-serif;font-weight:bold;font-size:13.50px" textLength="18.55" lengthAdjust="spacingAndGlyphs" stroke="#d62728" stroke-width="0.35">10</text>
<text transform="translate(645.39,527.85) rotate(-45)" x="0" y="4.90" text-anchor="middle" fill="#d62728" style="font-family:&quot;Liberation Sans&quot;,sans-serif;font-weight:bold;font-size:13.50px" textLength="18.55" lengthAdjust="spacingAndGlyphs" stroke="#d62728" stroke-width="0.35">20</text>
<text transform="translate(688.83,558.08) rotate(-45)" x="0" y="4.90" text-anchor="middle" fill="#d62728" style="font-family:&quot;Liberation Sans&quot;,sans-serif;font-weight:bold;font-size:13.50px" textLength="18.55" lengthAdjust="spacingAndGlyphs" stroke="#d62728" stroke-width="0.35">30</text>
<text transform="translate(733.26,587.33) rotate(-45)" x="0" y="4.90" text-anchor="middle" fill="#d62728" style="font-family:&quot;Liberation Sans&quot;,sans-serif;font-weight:bold;font-size:13.50px" textLength="18.55" lengthAdjust="spacingAndGlyphs" stroke="#d62728" stroke-width="0.35">40</text>
<text transform="translate(222.02,440.14) rotate(-30)" x="0" y="4.80" text-anchor="middle" fill="#1e90ff" style="font-family:&quot;Liberation Sans&quot;,sans-serif;font-weight:bold;font-size:13.50px" textLength="23.61" lengthAdjust="spacingAndGlyphs" stroke="#1e90ff" stroke-width="0.35">0.1</text>
<text transform="translate(268.88,440.14) rotate(-30)" x="0" y="4.80" text-anchor="middle" fill="#1e90ff" style="font-family:&quot;Liberation Sans&quot;,sans-serif;font-weight:bold;font-size:13.50px" textLength="23.61" lengthAdjust="spacingAndGlyphs" stroke="#1e90ff" stroke-width="0.35">0.2</text>
<text transform="translate(318.88,440.14) rotate(-30)" x="0" y="4.80" text-anchor="middle" fill="#1e90ff" style="font-family:&quot;Liberation Sans&quot;,sans-serif;font-weight:bold;font-size:13.50px" textLength="23.61" lengthAdjust="spacingAndGlyphs" stroke="#1e90ff" stroke-width="0.35">0.4</text>
<text transform="translate(349.70,440.14) rotate(-30)" x="0" y="4.80" text-anchor="middle" fill="#1e90ff" style="font-family:&quot;Liberation Sans&quot;,sans-serif;font-weight:bold;font-size:13.50px" textLength="23.61" lengthAdjust="spacingAndGlyphs" stroke="#1e90ff" stroke-width="0.35">0.6</text>
<text transform="translate(390.32,443.72) rotate(-30)" x="0" y="4.80" text-anchor="middle" fill="#1e90ff" style="font-family:&quot;Liberation Sans&quot;,sans-serif;font-weight:bold;font-size:13.50px" textLength="9.27" lengthAdjust="spacingAndGlyphs" stroke="#1e90ff" stroke-width="0.35">1</text>
<text transform="translate(424.06,440.14) rotate(-30)" x="0" y="4.80" text-anchor="middle" fill="#1e90ff" style="font-family:&quot;Liberation Sans&quot;,sans-serif;font-weight:bold;font-size:13.50px" textLength="23.61" lengthAdjust="spacingAndGlyphs" stroke="#1e90ff" stroke-width="0.35">1.5</text>
<text transform="translate(448.86,443.72) rotate(-30)" x="0" y="4.80" text-anchor="middle" fill="#1e90ff" style="font-family:&quot;Liberation Sans&quot;,sans-serif;font-weight:bold;font-size:13.50px" textLength="9.27" lengthAdjust="spacingAndGlyphs" stroke="#1e90ff" stroke-width="0.35">2</text>
<text transform="translate(485.05,443.72) rotate(-30)" x="0" y="4.80" text-anchor="middle" fill="#1e90ff" style="font-family:&quot;Liberation Sans&quot;,sans-serif;font-weight:bold;font-size:13.50px" textLength="9.27" lengthAdjust="spacingAndGlyphs" stroke="#1e90ff" stroke-width="0.35">3</text>
<text transform="translate(511.66,443.72) rotate(-30)" x="0" y="4.80" text-anchor="middle" fill="#1e90ff" style="font-family:&quot;Liberation Sans&quot;,sans-serif;font-weight:bold;font-size:13.50px" textLength="9.27" lengthAdjust="spacingAndGlyphs" stroke="#1e90ff" stroke-width="0.35">4</text>
<text transform="translate(550.52,443.72) rotate(-30)" x="0" y="4.80" text-anchor="middle" fill="#1e90ff" style="font-family:&quot;Liberation Sans&quot;,sans-serif;font-weight:bold;font-size:13.50px" textLength="9.27" lengthAdjust="spacingAndGlyphs" stroke="#1e90ff" stroke-width="0.35">6</text>
<text transform="translate(579.06,443.72) rotate(-30)" x="0" y="4.80" text-anchor="middle" fill="#1e90ff" style="font-family:&quot;Liberation Sans&quot;,sans-serif;font-weight:bold;font-size:13.50px" textLength="9.27" lengthAdjust="spacingAndGlyphs" stroke="#1e90ff" stroke-width="0.35">8</text>
<text transform="translate(601.78,441.40) rotate(-30)" x="0" y="4.80" text-anchor="middle" fill="#1e90ff" style="font-family:&quot;Liberation Sans&quot;,sans-serif;font-weight:bold;font-size:13.50px" textLength="18.55" lengthAdjust="spacingAndGlyphs" stroke="#1e90ff" stroke-width="0.35">10</text>
<text transform="translate(629.12,441.40) rotate(-30)" x="0" y="4.80" text-anchor="middle" fill="#1e90ff" style="font-family:&quot;Liberation Sans&quot;,sans-serif;font-weight:bold;font-size:13.50px" textLength="18.55" lengthAdjust="spacingAndGlyphs" stroke="#1e90ff" stroke-width="0.35">13</text>
<text transform="translate(651.24,441.40) rotate(-30)" x="0" y="4.80" text-anchor="middle" fill="#1e90ff" style="font-family:&quot;Liberation Sans&quot;,sans-serif;font-weight:bold;font-size:13.50px" textLength="18.55" lengthAdjust="spacingAndGlyphs" stroke="#1e90ff" stroke-width="0.35">16</text>
<text transform="translate(675.47,441.40) rotate(-30)" x="0" y="4.80" text-anchor="middle" fill="#1e90ff" style="font-family:&quot;Liberation Sans&quot;,sans-serif;font-weight:bold;font-size:13.50px" textLength="18.55" lengthAdjust="spacingAndGlyphs" stroke="#1e90ff" stroke-width="0.35">20</text>
<text transform="translate(700.17,441.40) rotate(-30)" x="0" y="4.80" text-anchor="middle" fill="#1e90ff" style="font-family:&quot;Liberation Sans&quot;,sans-serif;font-weight:bold;font-size:13.50px" textLength="18.55" lengthAdjust="spacingAndGlyphs" stroke="#1e90ff" stroke-width="0.35">25</text>
<text transform="translate(720.67,441.40) rotate(-30)" x="0" y="4.80" text-anchor="middle" fill="#1e90ff" style="font-family:&quot;Liberation Sans&quot;,sans-serif;font-weight:bold;font-size:13.50px" textLength="18.55" lengthAdjust="spacingAndGlyphs" stroke="#1e90ff" stroke-width="0.35">30</text>
<text transform="translate(741.44,441.40) rotate(-30)" x="0" y="4.80" text-anchor="middle" fill="#1e90ff" style="font-family:&quot;Liberation Sans&quot;,sans-serif;font-weight:bold;font-size:13.50px" textLength="18.55" lengthAdjust="spacingAndGlyphs" stroke="#1e90ff" stroke-width="0.35">36</text>
<text transform="translate(759.18,441.40) rotate(-30)" x="0" y="4.80" text-anchor="middle" fill="#1e90ff" style="font-family:&quot;Liberation Sans&quot;,sans-serif;font-weight:bold;font-size:13.50px" textLength="18.55" lengthAdjust="spacingAndGlyphs" stroke="#1e90ff" stroke-width="0.35">42</text>
</g>
<path d="M90.50,36.50 L753.50,36.50 L753.50,642.50 L90.50,642.50 Z" stroke="#000" stroke-width="1.33" fill="none" stroke-linejoin="miter" stroke-linecap="square"/>
<path d="M84.67,36.50 L90.50,36.50 M84.67,215.50 L90.50,215.50 M84.67,319.50 L90.50,319.50 M84.67,393.50 L90.50,393.50 M84.67,451.50 L90.50,451.50 M84.67,498.50 L90.50,498.50 M84.67,537.50 L90.50,537.50 M84.67,572.50 L90.50,572.50 M84.67,602.50 L90.50,602.50 M84.67,629.50 L90.50,629.50 M90.50,642.50 L90.50,648.33 M164.50,642.50 L164.50,648.33 M237.50,642.50 L237.50,648.33 M311.50,642.50 L311.50,648.33 M385.50,642.50 L385.50,648.33 M458.50,642.50 L458.50,648.33 M532.50,642.50 L532.50,648.33 M606.50,642.50 L606.50,648.33 M679.50,642.50 L679.50,648.33 M753.50,642.50 L753.50,648.33" stroke="#000" stroke-width="1.33" fill="none"/>
<text x="78.84" y="43.90" text-anchor="end" fill="#000" style="font-family:&quot;Liberation Sans&quot;,sans-serif;font-size:17.70px" textLength="31.81" lengthAdjust="spacingAndGlyphs">100</text>
<text x="78.84" y="222.38" text-anchor="end" fill="#000" style="font-family:&quot;Liberation Sans&quot;,sans-serif;font-size:17.70px" textLength="31.81" lengthAdjust="spacingAndGlyphs">200</text>
<text x="78.84" y="326.79" text-anchor="end" fill="#000" style="font-family:&quot;Liberation Sans&quot;,sans-serif;font-size:17.70px" textLength="31.81" lengthAdjust="spacingAndGlyphs">300</text>
<text x="78.84" y="400.86" text-anchor="end" fill="#000" style="font-family:&quot;Liberation Sans&quot;,sans-serif;font-size:17.70px" textLength="31.81" lengthAdjust="spacingAndGlyphs">400</text>
<text x="78.84" y="458.32" text-anchor="end" fill="#000" style="font-family:&quot;Liberation Sans&quot;,sans-serif;font-size:17.70px" textLength="31.81" lengthAdjust="spacingAndGlyphs">500</text>
<text x="78.84" y="505.27" text-anchor="end" fill="#000" style="font-family:&quot;Liberation Sans&quot;,sans-serif;font-size:17.70px" textLength="31.81" lengthAdjust="spacingAndGlyphs">600</text>
<text x="78.84" y="544.96" text-anchor="end" fill="#000" style="font-family:&quot;Liberation Sans&quot;,sans-serif;font-size:17.70px" textLength="31.81" lengthAdjust="spacingAndGlyphs">700</text>
<text x="78.84" y="579.34" text-anchor="end" fill="#000" style="font-family:&quot;Liberation Sans&quot;,sans-serif;font-size:17.70px" textLength="31.81" lengthAdjust="spacingAndGlyphs">800</text>
<text x="78.84" y="609.67" text-anchor="end" fill="#000" style="font-family:&quot;Liberation Sans&quot;,sans-serif;font-size:17.70px" textLength="31.81" lengthAdjust="spacingAndGlyphs">900</text>
<text x="78.84" y="636.80" text-anchor="end" fill="#000" style="font-family:&quot;Liberation Sans&quot;,sans-serif;font-size:17.70px" textLength="42.42" lengthAdjust="spacingAndGlyphs">1000</text>
<text x="90.45" y="667.60" text-anchor="middle" fill="#000" style="font-family:&quot;Liberation Sans&quot;,sans-serif;font-size:17.70px" textLength="35.17" lengthAdjust="spacingAndGlyphs">−40</text>
<text x="164.12" y="667.60" text-anchor="middle" fill="#000" style="font-family:&quot;Liberation Sans&quot;,sans-serif;font-size:17.70px" textLength="35.17" lengthAdjust="spacingAndGlyphs">−30</text>
<text x="237.79" y="667.60" text-anchor="middle" fill="#000" style="font-family:&quot;Liberation Sans&quot;,sans-serif;font-size:17.70px" textLength="35.17" lengthAdjust="spacingAndGlyphs">−20</text>
<text x="311.47" y="667.60" text-anchor="middle" fill="#000" style="font-family:&quot;Liberation Sans&quot;,sans-serif;font-size:17.70px" textLength="35.17" lengthAdjust="spacingAndGlyphs">−10</text>
<text x="385.14" y="667.60" text-anchor="middle" fill="#000" style="font-family:&quot;Liberation Sans&quot;,sans-serif;font-size:17.70px" textLength="10.60" lengthAdjust="spacingAndGlyphs">0</text>
<text x="458.81" y="667.60" text-anchor="middle" fill="#000" style="font-family:&quot;Liberation Sans&quot;,sans-serif;font-size:17.70px" textLength="21.21" lengthAdjust="spacingAndGlyphs">10</text>
<text x="532.48" y="667.60" text-anchor="middle" fill="#000" style="font-family:&quot;Liberation Sans&quot;,sans-serif;font-size:17.70px" textLength="21.21" lengthAdjust="spacingAndGlyphs">20</text>
<text x="606.16" y="667.60" text-anchor="middle" fill="#000" style="font-family:&quot;Liberation Sans&quot;,sans-serif;font-size:17.70px" textLength="21.21" lengthAdjust="spacingAndGlyphs">30</text>
<text x="679.83" y="667.60" text-anchor="middle" fill="#000" style="font-family:&quot;Liberation Sans&quot;,sans-serif;font-size:17.70px" textLength="21.21" lengthAdjust="spacingAndGlyphs">40</text>
<text x="753.50" y="667.60" text-anchor="middle" fill="#000" style="font-family:&quot;Liberation Sans&quot;,sans-serif;font-size:17.70px" textLength="21.21" lengthAdjust="spacingAndGlyphs">50</text>
<text x="421.98" y="26.50" text-anchor="middle" fill="#000" style="font-family:&quot;Liberation Sans&quot;,sans-serif;font-size:19.80px" textLength="346.95" lengthAdjust="spacingAndGlyphs">wetPf2_GN04.2025.304.01.35.G26</text>
<text x="421.98" y="692.30" text-anchor="middle" fill="#000" style="font-family:&quot;Liberation Sans&quot;,sans-serif;font-size:17.70px" textLength="143.85" lengthAdjust="spacingAndGlyphs">Temperature (°C)</text>
<text transform="translate(24.50,339.63) rotate(-90)" x="0" y="0" text-anchor="middle" fill="#000" style="font-family:&quot;Liberation Sans&quot;,sans-serif;font-size:17.70px" textLength="119.55" lengthAdjust="spacingAndGlyphs">Pressure (hPa)</text>

</svg></body></html>
